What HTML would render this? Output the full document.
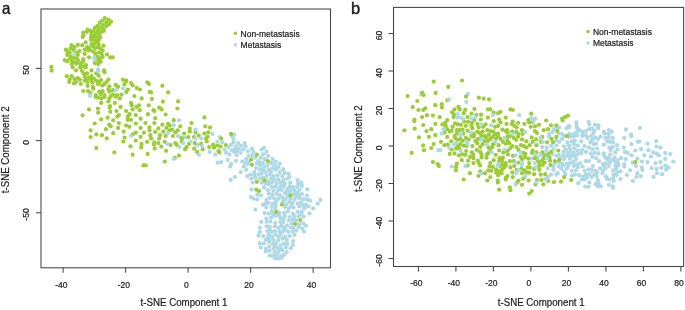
<!DOCTYPE html>
<html><head><meta charset="utf-8"><title>t-SNE</title>
<style>html,body{margin:0;padding:0;background:#fff;}body{width:685px;height:310px;position:relative;overflow:hidden;font-family:"Liberation Sans",sans-serif;}svg text{font-family:"Liberation Sans",sans-serif;}</style>
</head><body>
<svg width="685" height="310" viewBox="0 0 685 310" style="position:absolute;left:0;top:0;filter:blur(0.35px)"><g fill="none" stroke="#444" stroke-width="1.05"><rect x="41" y="9" width="289.5" height="258.8"/><rect x="393.5" y="7.4" width="290.1" height="259.1"/><line x1="63.1" y1="267.8" x2="63.1" y2="272.8"/><line x1="125.6" y1="267.8" x2="125.6" y2="272.8"/><line x1="188.1" y1="267.8" x2="188.1" y2="272.8"/><line x1="250.6" y1="267.8" x2="250.6" y2="272.8"/><line x1="313.1" y1="267.8" x2="313.1" y2="272.8"/><line x1="36" y1="68.4" x2="41" y2="68.4"/><line x1="36" y1="140.6" x2="41" y2="140.6"/><line x1="36" y1="212.8" x2="41" y2="212.8"/><line x1="418.4" y1="266.5" x2="418.4" y2="271.6"/><line x1="455.9" y1="266.5" x2="455.9" y2="271.6"/><line x1="493.4" y1="266.5" x2="493.4" y2="271.6"/><line x1="530.9" y1="266.5" x2="530.9" y2="271.6"/><line x1="568.4" y1="266.5" x2="568.4" y2="271.6"/><line x1="605.9" y1="266.5" x2="605.9" y2="271.6"/><line x1="643.4" y1="266.5" x2="643.4" y2="271.6"/><line x1="680.9" y1="266.5" x2="680.9" y2="271.6"/><line x1="388.5" y1="33.5" x2="393.5" y2="33.5"/><line x1="388.5" y1="71.0" x2="393.5" y2="71.0"/><line x1="388.5" y1="108.5" x2="393.5" y2="108.5"/><line x1="388.5" y1="146.0" x2="393.5" y2="146.0"/><line x1="388.5" y1="183.5" x2="393.5" y2="183.5"/><line x1="388.5" y1="221.0" x2="393.5" y2="221.0"/><line x1="388.5" y1="258.5" x2="393.5" y2="258.5"/></g><g class="t" fill="#1a1a1a" stroke="#1a1a1a" stroke-width="0.2"><text x="1.9" y="13.7" font-size="16.5" stroke-width="0.4" textLength="8.4" lengthAdjust="spacingAndGlyphs">a</text><text x="351.1" y="14.1" font-size="16.5" stroke-width="0.4">b</text><g font-size="8.5" text-anchor="middle"><text x="61.4" y="288">-40</text><text x="123.9" y="288">-20</text><text x="186.4" y="288">0</text><text x="248.9" y="288">20</text><text x="311.4" y="288">40</text><text transform="translate(29.2,70.1) rotate(-90)">50</text><text transform="translate(29.2,142.3) rotate(-90)">0</text><text transform="translate(29.2,214.5) rotate(-90)">-50</text><text x="416.4" y="286.4">-60</text><text x="453.9" y="286.4">-40</text><text x="491.4" y="286.4">-20</text><text x="528.9" y="286.4">0</text><text x="566.4" y="286.4">20</text><text x="603.9" y="286.4">40</text><text x="641.4" y="286.4">60</text><text x="678.9" y="286.4">80</text><text transform="translate(382.1,35.5) rotate(-90)">60</text><text transform="translate(382.1,73.0) rotate(-90)">40</text><text transform="translate(382.1,110.5) rotate(-90)">20</text><text transform="translate(382.1,148.0) rotate(-90)">0</text><text transform="translate(382.1,185.5) rotate(-90)">-20</text><text transform="translate(382.1,223.0) rotate(-90)">-40</text><text transform="translate(382.1,260.5) rotate(-90)">-60</text></g><g font-size="10" text-anchor="middle"><text x="184" y="306.4" textLength="86.8" lengthAdjust="spacingAndGlyphs">t-SNE Component 1</text><text x="541.2" y="306.4" textLength="86.8" lengthAdjust="spacingAndGlyphs">t-SNE Component 1</text><text transform="translate(9.1,149.8) rotate(-90)" textLength="86.8" lengthAdjust="spacingAndGlyphs">t-SNE Component 2</text><text transform="translate(361.6,148.7) rotate(-90)" textLength="86.8" lengthAdjust="spacingAndGlyphs">t-SNE Component 2</text></g><g font-size="8.5"><text x="240.6" y="36.5">Non-metastasis</text><text x="240.6" y="47.7">Metastasis</text><text x="592.9" y="34.9">Non-metastasis</text><text x="592.9" y="45.9">Metastasis</text></g></g><circle cx="235.3" cy="33.3" r="1.75" fill="#9acd32"/><circle cx="235.3" cy="44.8" r="1.75" fill="#add8e6"/><circle cx="588.1" cy="31.4" r="1.75" fill="#9acd32"/><circle cx="588.1" cy="42.9" r="1.75" fill="#add8e6"/><g><circle cx="135.8" cy="140.6" r="2.1" fill="#9acd32"/><circle cx="94.5" cy="35.8" r="2.1" fill="#9acd32"/><circle cx="220.5" cy="146.6" r="2.1" fill="#9acd32"/><circle cx="230.6" cy="179.8" r="2.1" fill="#add8e6"/><circle cx="219.7" cy="137.1" r="2.1" fill="#add8e6"/><circle cx="259.8" cy="243.4" r="2.1" fill="#add8e6"/><circle cx="210.0" cy="127.4" r="2.1" fill="#9acd32"/><circle cx="123.4" cy="141.5" r="2.1" fill="#9acd32"/><circle cx="70.6" cy="48.6" r="2.1" fill="#9acd32"/><circle cx="266.4" cy="218.5" r="2.1" fill="#add8e6"/><circle cx="233.4" cy="138.7" r="2.1" fill="#add8e6"/><circle cx="284.9" cy="193.3" r="2.1" fill="#add8e6"/><circle cx="88.1" cy="50.5" r="2.1" fill="#9acd32"/><circle cx="235.8" cy="160.8" r="2.1" fill="#add8e6"/><circle cx="278.2" cy="198.8" r="2.1" fill="#add8e6"/><circle cx="269.7" cy="174.5" r="2.1" fill="#add8e6"/><circle cx="90.6" cy="130.3" r="2.1" fill="#9acd32"/><circle cx="89.0" cy="109.4" r="2.1" fill="#9acd32"/><circle cx="106.5" cy="82.0" r="2.1" fill="#9acd32"/><circle cx="110.8" cy="126.3" r="2.1" fill="#9acd32"/><circle cx="283.1" cy="169.2" r="2.1" fill="#add8e6"/><circle cx="97.3" cy="37.0" r="2.1" fill="#9acd32"/><circle cx="77.9" cy="78.1" r="2.1" fill="#9acd32"/><circle cx="285.3" cy="229.4" r="2.1" fill="#add8e6"/><circle cx="198.7" cy="135.5" r="2.1" fill="#9acd32"/><circle cx="268.8" cy="193.5" r="2.1" fill="#add8e6"/><circle cx="51.6" cy="70.6" r="2.1" fill="#9acd32"/><circle cx="266.5" cy="176.1" r="2.1" fill="#add8e6"/><circle cx="257.1" cy="199.5" r="2.1" fill="#add8e6"/><circle cx="294.7" cy="190.6" r="2.1" fill="#add8e6"/><circle cx="186.6" cy="147.1" r="2.1" fill="#9acd32"/><circle cx="302.7" cy="205.0" r="2.1" fill="#add8e6"/><circle cx="309.6" cy="213.4" r="2.1" fill="#add8e6"/><circle cx="67.3" cy="61.2" r="2.1" fill="#9acd32"/><circle cx="251.0" cy="196.9" r="2.1" fill="#add8e6"/><circle cx="81.8" cy="70.8" r="2.1" fill="#9acd32"/><circle cx="120.5" cy="106.9" r="2.1" fill="#9acd32"/><circle cx="277.9" cy="190.3" r="2.1" fill="#add8e6"/><circle cx="234.2" cy="134.4" r="2.1" fill="#add8e6"/><circle cx="108.4" cy="79.6" r="2.1" fill="#9acd32"/><circle cx="287.4" cy="243.9" r="2.1" fill="#add8e6"/><circle cx="111.0" cy="96.0" r="2.1" fill="#9acd32"/><circle cx="243.9" cy="166.5" r="2.1" fill="#add8e6"/><circle cx="114.8" cy="102.9" r="2.1" fill="#9acd32"/><circle cx="268.1" cy="156.0" r="2.1" fill="#add8e6"/><circle cx="96.1" cy="32.9" r="2.1" fill="#9acd32"/><circle cx="272.6" cy="158.9" r="2.1" fill="#add8e6"/><circle cx="268.5" cy="203.1" r="2.1" fill="#add8e6"/><circle cx="91.0" cy="79.6" r="2.1" fill="#9acd32"/><circle cx="276.1" cy="243.2" r="2.1" fill="#add8e6"/><circle cx="261.3" cy="221.8" r="2.1" fill="#add8e6"/><circle cx="51.3" cy="66.9" r="2.1" fill="#9acd32"/><circle cx="175.3" cy="132.3" r="2.1" fill="#9acd32"/><circle cx="245.5" cy="146.3" r="2.1" fill="#add8e6"/><circle cx="277.4" cy="175.3" r="2.1" fill="#add8e6"/><circle cx="91.0" cy="39.9" r="2.1" fill="#9acd32"/><circle cx="70.6" cy="56.3" r="2.1" fill="#9acd32"/><circle cx="270.4" cy="221.5" r="2.1" fill="#add8e6"/><circle cx="65.8" cy="49.6" r="2.1" fill="#9acd32"/><circle cx="87.6" cy="85.8" r="2.1" fill="#9acd32"/><circle cx="293.9" cy="218.6" r="2.1" fill="#add8e6"/><circle cx="235.0" cy="176.9" r="2.1" fill="#add8e6"/><circle cx="87.6" cy="82.0" r="2.1" fill="#9acd32"/><circle cx="305.8" cy="204.9" r="2.1" fill="#add8e6"/><circle cx="275.1" cy="246.0" r="2.1" fill="#add8e6"/><circle cx="103.2" cy="24.8" r="2.1" fill="#9acd32"/><circle cx="284.8" cy="216.1" r="2.1" fill="#add8e6"/><circle cx="126.1" cy="111.0" r="2.1" fill="#9acd32"/><circle cx="251.1" cy="178.5" r="2.1" fill="#add8e6"/><circle cx="298.5" cy="216.5" r="2.1" fill="#add8e6"/><circle cx="126.3" cy="80.6" r="2.1" fill="#9acd32"/><circle cx="293.8" cy="194.1" r="2.1" fill="#add8e6"/><circle cx="158.4" cy="128.4" r="2.1" fill="#9acd32"/><circle cx="271.6" cy="206.8" r="2.1" fill="#add8e6"/><circle cx="189.0" cy="143.9" r="2.1" fill="#9acd32"/><circle cx="204.4" cy="133.5" r="2.1" fill="#9acd32"/><circle cx="275.2" cy="216.0" r="2.1" fill="#add8e6"/><circle cx="140.6" cy="118.7" r="2.1" fill="#9acd32"/><circle cx="121.5" cy="94.6" r="2.1" fill="#9acd32"/><circle cx="73.1" cy="57.8" r="2.1" fill="#9acd32"/><circle cx="320.4" cy="199.9" r="2.1" fill="#add8e6"/><circle cx="189.8" cy="131.6" r="2.1" fill="#9acd32"/><circle cx="109.7" cy="107.7" r="2.1" fill="#9acd32"/><circle cx="299.6" cy="198.1" r="2.1" fill="#add8e6"/><circle cx="297.8" cy="211.9" r="2.1" fill="#add8e6"/><circle cx="288.8" cy="208.5" r="2.1" fill="#add8e6"/><circle cx="154.4" cy="111.0" r="2.1" fill="#9acd32"/><circle cx="86.8" cy="31.8" r="2.1" fill="#9acd32"/><circle cx="99.2" cy="91.7" r="2.1" fill="#9acd32"/><circle cx="85.7" cy="42.3" r="2.1" fill="#9acd32"/><circle cx="102.6" cy="91.2" r="2.1" fill="#9acd32"/><circle cx="136.8" cy="87.9" r="2.1" fill="#9acd32"/><circle cx="231.8" cy="136.0" r="2.1" fill="#add8e6"/><circle cx="129.4" cy="114.2" r="2.1" fill="#9acd32"/><circle cx="166.1" cy="150.8" r="2.1" fill="#9acd32"/><circle cx="153.5" cy="110.2" r="2.1" fill="#9acd32"/><circle cx="92.4" cy="82.5" r="2.1" fill="#9acd32"/><circle cx="284.7" cy="183.4" r="2.1" fill="#add8e6"/><circle cx="135.8" cy="115.0" r="2.1" fill="#9acd32"/><circle cx="84.7" cy="80.5" r="2.1" fill="#9acd32"/><circle cx="261.6" cy="173.7" r="2.1" fill="#add8e6"/><circle cx="127.7" cy="116.6" r="2.1" fill="#9acd32"/><circle cx="217.7" cy="162.7" r="2.1" fill="#add8e6"/><circle cx="246.3" cy="169.7" r="2.1" fill="#add8e6"/><circle cx="195.5" cy="132.3" r="2.1" fill="#9acd32"/><circle cx="275.5" cy="208.2" r="2.1" fill="#add8e6"/><circle cx="84.7" cy="76.2" r="2.1" fill="#9acd32"/><circle cx="265.7" cy="248.9" r="2.1" fill="#add8e6"/><circle cx="279.8" cy="163.7" r="2.1" fill="#add8e6"/><circle cx="266.3" cy="207.5" r="2.1" fill="#add8e6"/><circle cx="271.9" cy="211.1" r="2.1" fill="#add8e6"/><circle cx="96.3" cy="134.4" r="2.1" fill="#9acd32"/><circle cx="268.7" cy="184.3" r="2.1" fill="#add8e6"/><circle cx="292.9" cy="213.5" r="2.1" fill="#add8e6"/><circle cx="301.1" cy="202.3" r="2.1" fill="#add8e6"/><circle cx="303.7" cy="216.7" r="2.1" fill="#add8e6"/><circle cx="185.0" cy="149.2" r="2.1" fill="#9acd32"/><circle cx="274.1" cy="198.3" r="2.1" fill="#add8e6"/><circle cx="179.0" cy="155.6" r="2.1" fill="#9acd32"/><circle cx="77.9" cy="54.9" r="2.1" fill="#9acd32"/><circle cx="256.0" cy="168.1" r="2.1" fill="#add8e6"/><circle cx="301.7" cy="211.7" r="2.1" fill="#add8e6"/><circle cx="119.8" cy="98.4" r="2.1" fill="#9acd32"/><circle cx="74.5" cy="79.1" r="2.1" fill="#9acd32"/><circle cx="118.9" cy="115.0" r="2.1" fill="#9acd32"/><circle cx="254.2" cy="174.9" r="2.1" fill="#add8e6"/><circle cx="99.7" cy="58.3" r="2.1" fill="#9acd32"/><circle cx="271.8" cy="163.2" r="2.1" fill="#add8e6"/><circle cx="94.4" cy="43.3" r="2.1" fill="#9acd32"/><circle cx="100.7" cy="61.7" r="2.1" fill="#9acd32"/><circle cx="97.3" cy="26.1" r="2.1" fill="#9acd32"/><circle cx="272.2" cy="232.0" r="2.1" fill="#add8e6"/><circle cx="288.8" cy="220.5" r="2.1" fill="#add8e6"/><circle cx="301.9" cy="194.0" r="2.1" fill="#add8e6"/><circle cx="263.2" cy="177.7" r="2.1" fill="#add8e6"/><circle cx="91.6" cy="34.2" r="2.1" fill="#9acd32"/><circle cx="276.8" cy="193.9" r="2.1" fill="#add8e6"/><circle cx="131.0" cy="119.8" r="2.1" fill="#9acd32"/><circle cx="86.1" cy="65.0" r="2.1" fill="#9acd32"/><circle cx="145.8" cy="165.3" r="2.1" fill="#9acd32"/><circle cx="286.1" cy="204.5" r="2.1" fill="#add8e6"/><circle cx="264.0" cy="167.3" r="2.1" fill="#add8e6"/><circle cx="98.7" cy="39.9" r="2.1" fill="#9acd32"/><circle cx="97.3" cy="56.8" r="2.1" fill="#9acd32"/><circle cx="231.0" cy="164.0" r="2.1" fill="#add8e6"/><circle cx="269.8" cy="229.3" r="2.1" fill="#add8e6"/><circle cx="313.1" cy="208.3" r="2.1" fill="#add8e6"/><circle cx="268.1" cy="181.0" r="2.1" fill="#add8e6"/><circle cx="150.3" cy="135.2" r="2.1" fill="#9acd32"/><circle cx="141.1" cy="147.4" r="2.1" fill="#9acd32"/><circle cx="280.3" cy="256.1" r="2.1" fill="#add8e6"/><circle cx="175.3" cy="143.1" r="2.1" fill="#9acd32"/><circle cx="274.2" cy="180.2" r="2.1" fill="#add8e6"/><circle cx="109.2" cy="124.7" r="2.1" fill="#9acd32"/><circle cx="139.0" cy="105.3" r="2.1" fill="#9acd32"/><circle cx="87.1" cy="73.3" r="2.1" fill="#9acd32"/><circle cx="115.8" cy="96.8" r="2.1" fill="#9acd32"/><circle cx="272.4" cy="194.7" r="2.1" fill="#add8e6"/><circle cx="303.3" cy="223.5" r="2.1" fill="#add8e6"/><circle cx="228.5" cy="147.1" r="2.1" fill="#add8e6"/><circle cx="298.1" cy="183.9" r="2.1" fill="#add8e6"/><circle cx="132.6" cy="154.7" r="2.1" fill="#9acd32"/><circle cx="76.0" cy="82.0" r="2.1" fill="#9acd32"/><circle cx="82.3" cy="45.2" r="2.1" fill="#9acd32"/><circle cx="289.5" cy="176.9" r="2.1" fill="#add8e6"/><circle cx="284.7" cy="172.9" r="2.1" fill="#add8e6"/><circle cx="172.1" cy="129.5" r="2.1" fill="#9acd32"/><circle cx="194.2" cy="148.7" r="2.1" fill="#9acd32"/><circle cx="247.9" cy="151.1" r="2.1" fill="#add8e6"/><circle cx="219.4" cy="152.4" r="2.1" fill="#9acd32"/><circle cx="93.9" cy="36.5" r="2.1" fill="#9acd32"/><circle cx="96.3" cy="73.3" r="2.1" fill="#9acd32"/><circle cx="94.8" cy="28.1" r="2.1" fill="#9acd32"/><circle cx="149.7" cy="91.9" r="2.1" fill="#9acd32"/><circle cx="77.9" cy="60.2" r="2.1" fill="#9acd32"/><circle cx="243.1" cy="149.5" r="2.1" fill="#add8e6"/><circle cx="272.1" cy="187.1" r="2.1" fill="#add8e6"/><circle cx="283.1" cy="231.3" r="2.1" fill="#add8e6"/><circle cx="273.4" cy="176.1" r="2.1" fill="#add8e6"/><circle cx="147.1" cy="141.8" r="2.1" fill="#9acd32"/><circle cx="258.6" cy="235.4" r="2.1" fill="#add8e6"/><circle cx="131.0" cy="102.9" r="2.1" fill="#9acd32"/><circle cx="135.8" cy="132.7" r="2.1" fill="#9acd32"/><circle cx="305.9" cy="225.7" r="2.1" fill="#add8e6"/><circle cx="231.0" cy="144.7" r="2.1" fill="#add8e6"/><circle cx="76.0" cy="58.3" r="2.1" fill="#9acd32"/><circle cx="269.6" cy="226.6" r="2.1" fill="#add8e6"/><circle cx="95.3" cy="48.1" r="2.1" fill="#9acd32"/><circle cx="178.1" cy="101.3" r="2.1" fill="#9acd32"/><circle cx="163.2" cy="131.6" r="2.1" fill="#9acd32"/><circle cx="101.3" cy="31.8" r="2.1" fill="#9acd32"/><circle cx="287.6" cy="195.9" r="2.1" fill="#add8e6"/><circle cx="104.5" cy="83.9" r="2.1" fill="#9acd32"/><circle cx="99.4" cy="34.2" r="2.1" fill="#9acd32"/><circle cx="174.8" cy="157.9" r="2.1" fill="#9acd32"/><circle cx="87.6" cy="29.7" r="2.1" fill="#9acd32"/><circle cx="264.0" cy="147.9" r="2.1" fill="#add8e6"/><circle cx="155.2" cy="131.9" r="2.1" fill="#9acd32"/><circle cx="100.5" cy="27.4" r="2.1" fill="#9acd32"/><circle cx="251.9" cy="155.4" r="2.1" fill="#add8e6"/><circle cx="110.0" cy="106.1" r="2.1" fill="#9acd32"/><circle cx="93.2" cy="31.0" r="2.1" fill="#9acd32"/><circle cx="269.5" cy="250.7" r="2.1" fill="#add8e6"/><circle cx="261.6" cy="182.6" r="2.1" fill="#add8e6"/><circle cx="227.7" cy="160.0" r="2.1" fill="#add8e6"/><circle cx="265.8" cy="251.4" r="2.1" fill="#add8e6"/><circle cx="170.5" cy="145.0" r="2.1" fill="#9acd32"/><circle cx="88.6" cy="78.1" r="2.1" fill="#9acd32"/><circle cx="234.9" cy="149.2" r="2.1" fill="#add8e6"/><circle cx="93.4" cy="51.5" r="2.1" fill="#9acd32"/><circle cx="275.7" cy="205.2" r="2.1" fill="#add8e6"/><circle cx="90.5" cy="31.0" r="2.1" fill="#9acd32"/><circle cx="83.2" cy="91.0" r="2.1" fill="#9acd32"/><circle cx="272.8" cy="244.2" r="2.1" fill="#add8e6"/><circle cx="247.1" cy="176.1" r="2.1" fill="#add8e6"/><circle cx="177.7" cy="130.3" r="2.1" fill="#9acd32"/><circle cx="293.5" cy="228.0" r="2.1" fill="#add8e6"/><circle cx="92.9" cy="86.8" r="2.1" fill="#9acd32"/><circle cx="266.3" cy="200.1" r="2.1" fill="#add8e6"/><circle cx="279.8" cy="172.1" r="2.1" fill="#add8e6"/><circle cx="278.5" cy="258.5" r="2.1" fill="#add8e6"/><circle cx="253.5" cy="151.9" r="2.1" fill="#add8e6"/><circle cx="135.8" cy="123.5" r="2.1" fill="#9acd32"/><circle cx="279.6" cy="187.7" r="2.1" fill="#add8e6"/><circle cx="164.8" cy="141.8" r="2.1" fill="#9acd32"/><circle cx="292.8" cy="219.7" r="2.1" fill="#add8e6"/><circle cx="294.6" cy="234.9" r="2.1" fill="#add8e6"/><circle cx="108.5" cy="19.7" r="2.1" fill="#9acd32"/><circle cx="269.6" cy="239.9" r="2.1" fill="#add8e6"/><circle cx="91.5" cy="70.4" r="2.1" fill="#9acd32"/><circle cx="283.4" cy="222.0" r="2.1" fill="#add8e6"/><circle cx="101.9" cy="135.2" r="2.1" fill="#9acd32"/><circle cx="100.7" cy="94.1" r="2.1" fill="#9acd32"/><circle cx="104.5" cy="96.8" r="2.1" fill="#9acd32"/><circle cx="145.5" cy="123.1" r="2.1" fill="#9acd32"/><circle cx="269.0" cy="242.1" r="2.1" fill="#add8e6"/><circle cx="272.6" cy="168.1" r="2.1" fill="#add8e6"/><circle cx="229.4" cy="154.4" r="2.1" fill="#add8e6"/><circle cx="131.8" cy="105.3" r="2.1" fill="#9acd32"/><circle cx="284.0" cy="243.6" r="2.1" fill="#add8e6"/><circle cx="245.3" cy="163.0" r="2.1" fill="#add8e6"/><circle cx="113.2" cy="120.3" r="2.1" fill="#9acd32"/><circle cx="102.1" cy="85.4" r="2.1" fill="#9acd32"/><circle cx="278.4" cy="240.0" r="2.1" fill="#add8e6"/><circle cx="280.4" cy="217.9" r="2.1" fill="#add8e6"/><circle cx="83.5" cy="35.0" r="2.1" fill="#9acd32"/><circle cx="259.9" cy="232.1" r="2.1" fill="#add8e6"/><circle cx="272.9" cy="203.5" r="2.1" fill="#add8e6"/><circle cx="141.5" cy="143.9" r="2.1" fill="#9acd32"/><circle cx="112.8" cy="57.3" r="2.1" fill="#9acd32"/><circle cx="83.2" cy="59.2" r="2.1" fill="#9acd32"/><circle cx="258.4" cy="174.5" r="2.1" fill="#add8e6"/><circle cx="67.3" cy="54.9" r="2.1" fill="#9acd32"/><circle cx="260.4" cy="162.7" r="2.1" fill="#add8e6"/><circle cx="101.1" cy="102.9" r="2.1" fill="#9acd32"/><circle cx="74.5" cy="47.1" r="2.1" fill="#9acd32"/><circle cx="154.4" cy="123.1" r="2.1" fill="#9acd32"/><circle cx="164.8" cy="161.6" r="2.1" fill="#9acd32"/><circle cx="285.3" cy="236.5" r="2.1" fill="#add8e6"/><circle cx="77.9" cy="44.9" r="2.1" fill="#9acd32"/><circle cx="238.2" cy="143.1" r="2.1" fill="#add8e6"/><circle cx="268.0" cy="190.2" r="2.1" fill="#add8e6"/><circle cx="261.6" cy="149.5" r="2.1" fill="#add8e6"/><circle cx="118.9" cy="123.1" r="2.1" fill="#9acd32"/><circle cx="293.1" cy="187.2" r="2.1" fill="#add8e6"/><circle cx="90.5" cy="93.1" r="2.1" fill="#9acd32"/><circle cx="269.9" cy="255.6" r="2.1" fill="#add8e6"/><circle cx="265.8" cy="239.8" r="2.1" fill="#add8e6"/><circle cx="265.6" cy="172.1" r="2.1" fill="#add8e6"/><circle cx="260.0" cy="169.7" r="2.1" fill="#add8e6"/><circle cx="102.1" cy="20.5" r="2.1" fill="#9acd32"/><circle cx="110.3" cy="111.8" r="2.1" fill="#9acd32"/><circle cx="297.6" cy="180.2" r="2.1" fill="#add8e6"/><circle cx="82.6" cy="115.3" r="2.1" fill="#9acd32"/><circle cx="255.3" cy="209.7" r="2.1" fill="#add8e6"/><circle cx="288.7" cy="173.7" r="2.1" fill="#add8e6"/><circle cx="280.1" cy="195.4" r="2.1" fill="#add8e6"/><circle cx="280.5" cy="245.4" r="2.1" fill="#add8e6"/><circle cx="214.0" cy="147.6" r="2.1" fill="#9acd32"/><circle cx="290.6" cy="190.3" r="2.1" fill="#add8e6"/><circle cx="263.2" cy="154.4" r="2.1" fill="#add8e6"/><circle cx="106.0" cy="129.2" r="2.1" fill="#9acd32"/><circle cx="162.4" cy="124.7" r="2.1" fill="#9acd32"/><circle cx="159.2" cy="107.7" r="2.1" fill="#9acd32"/><circle cx="287.1" cy="225.4" r="2.1" fill="#add8e6"/><circle cx="239.0" cy="148.7" r="2.1" fill="#add8e6"/><circle cx="101.3" cy="98.4" r="2.1" fill="#9acd32"/><circle cx="301.2" cy="214.4" r="2.1" fill="#add8e6"/><circle cx="97.8" cy="83.9" r="2.1" fill="#9acd32"/><circle cx="296.3" cy="196.6" r="2.1" fill="#add8e6"/><circle cx="169.7" cy="125.5" r="2.1" fill="#9acd32"/><circle cx="98.7" cy="75.7" r="2.1" fill="#9acd32"/><circle cx="149.5" cy="127.4" r="2.1" fill="#9acd32"/><circle cx="80.8" cy="63.1" r="2.1" fill="#9acd32"/><circle cx="154.4" cy="142.3" r="2.1" fill="#9acd32"/><circle cx="233.4" cy="142.3" r="2.1" fill="#add8e6"/><circle cx="114.4" cy="152.4" r="2.1" fill="#9acd32"/><circle cx="206.8" cy="141.5" r="2.1" fill="#9acd32"/><circle cx="294.5" cy="199.2" r="2.1" fill="#add8e6"/><circle cx="99.2" cy="82.0" r="2.1" fill="#9acd32"/><circle cx="303.6" cy="199.2" r="2.1" fill="#add8e6"/><circle cx="132.6" cy="109.4" r="2.1" fill="#9acd32"/><circle cx="116.5" cy="111.0" r="2.1" fill="#9acd32"/><circle cx="281.9" cy="257.8" r="2.1" fill="#add8e6"/><circle cx="281.7" cy="189.9" r="2.1" fill="#add8e6"/><circle cx="126.1" cy="125.5" r="2.1" fill="#9acd32"/><circle cx="289.7" cy="186.2" r="2.1" fill="#add8e6"/><circle cx="84.7" cy="49.6" r="2.1" fill="#9acd32"/><circle cx="260.7" cy="247.5" r="2.1" fill="#add8e6"/><circle cx="126.3" cy="91.9" r="2.1" fill="#9acd32"/><circle cx="88.1" cy="91.2" r="2.1" fill="#9acd32"/><circle cx="130.5" cy="146.3" r="2.1" fill="#9acd32"/><circle cx="188.2" cy="137.1" r="2.1" fill="#9acd32"/><circle cx="272.1" cy="236.7" r="2.1" fill="#add8e6"/><circle cx="98.2" cy="60.7" r="2.1" fill="#9acd32"/><circle cx="265.8" cy="203.9" r="2.1" fill="#add8e6"/><circle cx="275.8" cy="169.7" r="2.1" fill="#add8e6"/><circle cx="292.7" cy="202.9" r="2.1" fill="#add8e6"/><circle cx="155.2" cy="118.2" r="2.1" fill="#9acd32"/><circle cx="273.3" cy="190.9" r="2.1" fill="#add8e6"/><circle cx="275.4" cy="258.5" r="2.1" fill="#add8e6"/><circle cx="286.7" cy="252.0" r="2.1" fill="#add8e6"/><circle cx="76.9" cy="63.6" r="2.1" fill="#9acd32"/><circle cx="257.4" cy="194.7" r="2.1" fill="#add8e6"/><circle cx="284.0" cy="254.9" r="2.1" fill="#add8e6"/><circle cx="143.9" cy="132.7" r="2.1" fill="#9acd32"/><circle cx="278.9" cy="215.4" r="2.1" fill="#add8e6"/><circle cx="278.2" cy="167.3" r="2.1" fill="#add8e6"/><circle cx="296.3" cy="230.5" r="2.1" fill="#add8e6"/><circle cx="279.9" cy="231.5" r="2.1" fill="#add8e6"/><circle cx="106.5" cy="26.1" r="2.1" fill="#9acd32"/><circle cx="260.0" cy="178.5" r="2.1" fill="#add8e6"/><circle cx="280.3" cy="222.0" r="2.1" fill="#add8e6"/><circle cx="241.1" cy="145.5" r="2.1" fill="#add8e6"/><circle cx="95.8" cy="95.0" r="2.1" fill="#9acd32"/><circle cx="284.1" cy="212.9" r="2.1" fill="#add8e6"/><circle cx="165.6" cy="114.5" r="2.1" fill="#9acd32"/><circle cx="168.1" cy="92.4" r="2.1" fill="#9acd32"/><circle cx="98.2" cy="112.6" r="2.1" fill="#9acd32"/><circle cx="71.6" cy="45.2" r="2.1" fill="#9acd32"/><circle cx="269.3" cy="246.6" r="2.1" fill="#add8e6"/><circle cx="283.8" cy="186.2" r="2.1" fill="#add8e6"/><circle cx="72.1" cy="61.2" r="2.1" fill="#9acd32"/><circle cx="276.2" cy="255.0" r="2.1" fill="#add8e6"/><circle cx="268.0" cy="237.3" r="2.1" fill="#add8e6"/><circle cx="109.0" cy="24.2" r="2.1" fill="#9acd32"/><circle cx="69.7" cy="52.5" r="2.1" fill="#9acd32"/><circle cx="299.6" cy="189.7" r="2.1" fill="#add8e6"/><circle cx="262.9" cy="204.7" r="2.1" fill="#add8e6"/><circle cx="98.2" cy="64.1" r="2.1" fill="#9acd32"/><circle cx="176.9" cy="145.0" r="2.1" fill="#9acd32"/><circle cx="122.9" cy="79.6" r="2.1" fill="#9acd32"/><circle cx="84.7" cy="53.9" r="2.1" fill="#9acd32"/><circle cx="117.3" cy="116.6" r="2.1" fill="#9acd32"/><circle cx="266.5" cy="151.9" r="2.1" fill="#add8e6"/><circle cx="147.3" cy="82.3" r="2.1" fill="#9acd32"/><circle cx="276.1" cy="201.6" r="2.1" fill="#add8e6"/><circle cx="83.2" cy="32.6" r="2.1" fill="#9acd32"/><circle cx="91.5" cy="76.2" r="2.1" fill="#9acd32"/><circle cx="264.0" cy="187.4" r="2.1" fill="#add8e6"/><circle cx="197.1" cy="151.9" r="2.1" fill="#9acd32"/><circle cx="209.2" cy="147.1" r="2.1" fill="#9acd32"/><circle cx="125.8" cy="81.5" r="2.1" fill="#9acd32"/><circle cx="106.1" cy="22.1" r="2.1" fill="#9acd32"/><circle cx="275.0" cy="165.6" r="2.1" fill="#add8e6"/><circle cx="151.1" cy="92.4" r="2.1" fill="#9acd32"/><circle cx="110.3" cy="57.3" r="2.1" fill="#9acd32"/><circle cx="268.7" cy="213.4" r="2.1" fill="#add8e6"/><circle cx="180.2" cy="126.3" r="2.1" fill="#9acd32"/><circle cx="80.3" cy="67.5" r="2.1" fill="#9acd32"/><circle cx="73.6" cy="50.0" r="2.1" fill="#9acd32"/><circle cx="165.6" cy="136.0" r="2.1" fill="#9acd32"/><circle cx="293.6" cy="207.6" r="2.1" fill="#add8e6"/><circle cx="124.5" cy="137.6" r="2.1" fill="#9acd32"/><circle cx="103.7" cy="29.0" r="2.1" fill="#9acd32"/><circle cx="148.9" cy="83.9" r="2.1" fill="#9acd32"/><circle cx="255.2" cy="177.7" r="2.1" fill="#add8e6"/><circle cx="303.9" cy="231.5" r="2.1" fill="#add8e6"/><circle cx="86.1" cy="78.6" r="2.1" fill="#9acd32"/><circle cx="97.9" cy="108.5" r="2.1" fill="#9acd32"/><circle cx="304.3" cy="208.5" r="2.1" fill="#add8e6"/><circle cx="83.2" cy="66.5" r="2.1" fill="#9acd32"/><circle cx="107.6" cy="117.7" r="2.1" fill="#9acd32"/><circle cx="67.3" cy="51.5" r="2.1" fill="#9acd32"/><circle cx="280.7" cy="234.2" r="2.1" fill="#add8e6"/><circle cx="283.1" cy="201.4" r="2.1" fill="#add8e6"/><circle cx="269.0" cy="234.4" r="2.1" fill="#add8e6"/><circle cx="290.8" cy="206.0" r="2.1" fill="#add8e6"/><circle cx="263.0" cy="169.9" r="2.1" fill="#add8e6"/><circle cx="98.7" cy="52.5" r="2.1" fill="#9acd32"/><circle cx="98.7" cy="44.7" r="2.1" fill="#9acd32"/><circle cx="246.3" cy="159.2" r="2.1" fill="#add8e6"/><circle cx="294.2" cy="215.9" r="2.1" fill="#add8e6"/><circle cx="143.5" cy="165.3" r="2.1" fill="#9acd32"/><circle cx="104.5" cy="95.0" r="2.1" fill="#9acd32"/><circle cx="276.6" cy="183.4" r="2.1" fill="#add8e6"/><circle cx="71.6" cy="76.2" r="2.1" fill="#9acd32"/><circle cx="117.1" cy="95.0" r="2.1" fill="#9acd32"/><circle cx="96.3" cy="147.9" r="2.1" fill="#9acd32"/><circle cx="115.7" cy="84.9" r="2.1" fill="#9acd32"/><circle cx="267.5" cy="231.2" r="2.1" fill="#add8e6"/><circle cx="263.9" cy="243.6" r="2.1" fill="#add8e6"/><circle cx="66.8" cy="76.2" r="2.1" fill="#9acd32"/><circle cx="94.8" cy="63.1" r="2.1" fill="#9acd32"/><circle cx="240.6" cy="152.7" r="2.1" fill="#add8e6"/><circle cx="301.9" cy="185.8" r="2.1" fill="#add8e6"/><circle cx="256.8" cy="163.2" r="2.1" fill="#add8e6"/><circle cx="112.8" cy="90.2" r="2.1" fill="#9acd32"/><circle cx="273.0" cy="214.2" r="2.1" fill="#add8e6"/><circle cx="289.6" cy="192.9" r="2.1" fill="#add8e6"/><circle cx="278.2" cy="179.4" r="2.1" fill="#add8e6"/><circle cx="134.4" cy="96.0" r="2.1" fill="#9acd32"/><circle cx="158.4" cy="143.1" r="2.1" fill="#9acd32"/><circle cx="260.8" cy="157.6" r="2.1" fill="#add8e6"/><circle cx="230.2" cy="166.5" r="2.1" fill="#add8e6"/><circle cx="287.8" cy="211.5" r="2.1" fill="#add8e6"/><circle cx="94.7" cy="123.5" r="2.1" fill="#9acd32"/><circle cx="298.7" cy="227.0" r="2.1" fill="#add8e6"/><circle cx="162.3" cy="85.8" r="2.1" fill="#9acd32"/><circle cx="310.2" cy="200.6" r="2.1" fill="#add8e6"/><circle cx="217.3" cy="145.5" r="2.1" fill="#9acd32"/><circle cx="275.0" cy="231.0" r="2.1" fill="#add8e6"/><circle cx="317.7" cy="203.7" r="2.1" fill="#add8e6"/><circle cx="275.8" cy="161.6" r="2.1" fill="#add8e6"/><circle cx="213.2" cy="144.7" r="2.1" fill="#9acd32"/><circle cx="90.5" cy="50.5" r="2.1" fill="#9acd32"/><circle cx="193.9" cy="137.1" r="2.1" fill="#9acd32"/><circle cx="258.4" cy="160.8" r="2.1" fill="#add8e6"/><circle cx="253.5" cy="198.6" r="2.1" fill="#add8e6"/><circle cx="285.0" cy="206.8" r="2.1" fill="#add8e6"/><circle cx="96.3" cy="80.5" r="2.1" fill="#9acd32"/><circle cx="231.8" cy="150.3" r="2.1" fill="#add8e6"/><circle cx="274.8" cy="226.5" r="2.1" fill="#add8e6"/><circle cx="109.4" cy="86.3" r="2.1" fill="#9acd32"/><circle cx="118.1" cy="127.9" r="2.1" fill="#9acd32"/><circle cx="281.4" cy="225.6" r="2.1" fill="#add8e6"/><circle cx="132.7" cy="85.5" r="2.1" fill="#9acd32"/><circle cx="218.4" cy="151.1" r="2.1" fill="#9acd32"/><circle cx="255.2" cy="157.6" r="2.1" fill="#add8e6"/><circle cx="191.5" cy="123.1" r="2.1" fill="#9acd32"/><circle cx="69.2" cy="82.0" r="2.1" fill="#9acd32"/><circle cx="249.3" cy="161.7" r="2.1" fill="#add8e6"/><circle cx="285.7" cy="247.3" r="2.1" fill="#add8e6"/><circle cx="64.8" cy="60.2" r="2.1" fill="#9acd32"/><circle cx="252.7" cy="182.6" r="2.1" fill="#add8e6"/><circle cx="237.0" cy="151.0" r="2.1" fill="#add8e6"/><circle cx="281.1" cy="185.0" r="2.1" fill="#add8e6"/><circle cx="139.8" cy="110.2" r="2.1" fill="#9acd32"/><circle cx="273.5" cy="240.0" r="2.1" fill="#add8e6"/><circle cx="290.3" cy="182.6" r="2.1" fill="#add8e6"/><circle cx="90.6" cy="137.1" r="2.1" fill="#9acd32"/><circle cx="99.7" cy="22.9" r="2.1" fill="#9acd32"/><circle cx="250.3" cy="174.5" r="2.1" fill="#add8e6"/><circle cx="91.5" cy="44.2" r="2.1" fill="#9acd32"/><circle cx="149.5" cy="130.3" r="2.1" fill="#9acd32"/><circle cx="297.7" cy="203.5" r="2.1" fill="#add8e6"/><circle cx="100.7" cy="48.6" r="2.1" fill="#9acd32"/><circle cx="74.0" cy="83.4" r="2.1" fill="#9acd32"/><circle cx="244.7" cy="143.1" r="2.1" fill="#add8e6"/><circle cx="148.7" cy="105.3" r="2.1" fill="#9acd32"/><circle cx="307.3" cy="199.7" r="2.1" fill="#add8e6"/><circle cx="79.8" cy="79.6" r="2.1" fill="#9acd32"/><circle cx="275.5" cy="186.7" r="2.1" fill="#add8e6"/><circle cx="147.6" cy="153.9" r="2.1" fill="#9acd32"/><circle cx="286.7" cy="239.9" r="2.1" fill="#add8e6"/><circle cx="265.6" cy="183.4" r="2.1" fill="#add8e6"/><circle cx="107.0" cy="54.4" r="2.1" fill="#9acd32"/><circle cx="207.6" cy="136.8" r="2.1" fill="#9acd32"/><circle cx="140.0" cy="89.5" r="2.1" fill="#9acd32"/><circle cx="283.7" cy="227.2" r="2.1" fill="#add8e6"/><circle cx="283.6" cy="219.0" r="2.1" fill="#add8e6"/><circle cx="161.6" cy="109.4" r="2.1" fill="#9acd32"/><circle cx="80.8" cy="65.5" r="2.1" fill="#9acd32"/><circle cx="93.4" cy="46.6" r="2.1" fill="#9acd32"/><circle cx="235.8" cy="146.3" r="2.1" fill="#add8e6"/><circle cx="113.2" cy="94.6" r="2.1" fill="#9acd32"/><circle cx="267.3" cy="165.6" r="2.1" fill="#add8e6"/><circle cx="97.3" cy="42.8" r="2.1" fill="#9acd32"/><circle cx="103.6" cy="45.7" r="2.1" fill="#9acd32"/><circle cx="147.9" cy="114.2" r="2.1" fill="#9acd32"/><circle cx="159.2" cy="138.4" r="2.1" fill="#9acd32"/><circle cx="93.9" cy="39.4" r="2.1" fill="#9acd32"/><circle cx="266.5" cy="226.4" r="2.1" fill="#add8e6"/><circle cx="108.4" cy="101.3" r="2.1" fill="#9acd32"/><circle cx="153.9" cy="144.4" r="2.1" fill="#9acd32"/><circle cx="289.7" cy="217.0" r="2.1" fill="#add8e6"/><circle cx="166.5" cy="127.9" r="2.1" fill="#9acd32"/><circle cx="83.7" cy="73.3" r="2.1" fill="#9acd32"/><circle cx="297.4" cy="187.0" r="2.1" fill="#add8e6"/><circle cx="299.0" cy="224.3" r="2.1" fill="#add8e6"/><circle cx="282.3" cy="176.1" r="2.1" fill="#add8e6"/><circle cx="292.9" cy="245.0" r="2.1" fill="#add8e6"/><circle cx="113.2" cy="133.2" r="2.1" fill="#9acd32"/><circle cx="102.6" cy="56.8" r="2.1" fill="#9acd32"/><circle cx="271.0" cy="178.6" r="2.1" fill="#add8e6"/><circle cx="72.6" cy="67.2" r="2.1" fill="#9acd32"/><circle cx="289.7" cy="236.1" r="2.1" fill="#add8e6"/><circle cx="162.9" cy="101.6" r="2.1" fill="#9acd32"/><circle cx="264.5" cy="212.9" r="2.1" fill="#add8e6"/><circle cx="93.4" cy="88.7" r="2.1" fill="#9acd32"/><circle cx="292.6" cy="231.7" r="2.1" fill="#add8e6"/><circle cx="98.1" cy="97.6" r="2.1" fill="#9acd32"/><circle cx="263.4" cy="236.0" r="2.1" fill="#add8e6"/><circle cx="96.3" cy="40.4" r="2.1" fill="#9acd32"/><circle cx="226.1" cy="152.7" r="2.1" fill="#add8e6"/><circle cx="279.3" cy="212.7" r="2.1" fill="#add8e6"/><circle cx="69.7" cy="79.6" r="2.1" fill="#9acd32"/><circle cx="278.7" cy="227.9" r="2.1" fill="#add8e6"/><circle cx="236.6" cy="155.2" r="2.1" fill="#add8e6"/><circle cx="302.3" cy="228.7" r="2.1" fill="#add8e6"/><circle cx="131.1" cy="83.1" r="2.1" fill="#9acd32"/><circle cx="285.6" cy="199.4" r="2.1" fill="#add8e6"/><circle cx="290.8" cy="227.6" r="2.1" fill="#add8e6"/><circle cx="240.6" cy="172.1" r="2.1" fill="#add8e6"/><circle cx="288.3" cy="231.8" r="2.1" fill="#add8e6"/><circle cx="104.8" cy="18.1" r="2.1" fill="#9acd32"/><circle cx="124.4" cy="84.4" r="2.1" fill="#9acd32"/><circle cx="168.1" cy="123.9" r="2.1" fill="#9acd32"/><circle cx="101.1" cy="119.4" r="2.1" fill="#9acd32"/><circle cx="261.1" cy="195.5" r="2.1" fill="#add8e6"/><circle cx="251.9" cy="148.7" r="2.1" fill="#add8e6"/><circle cx="271.0" cy="172.1" r="2.1" fill="#add8e6"/><circle cx="296.3" cy="220.4" r="2.1" fill="#add8e6"/><circle cx="287.4" cy="188.8" r="2.1" fill="#add8e6"/><circle cx="280.6" cy="182.6" r="2.1" fill="#add8e6"/><circle cx="132.6" cy="134.4" r="2.1" fill="#9acd32"/><circle cx="290.3" cy="198.7" r="2.1" fill="#add8e6"/><circle cx="277.9" cy="248.2" r="2.1" fill="#add8e6"/><circle cx="272.8" cy="256.0" r="2.1" fill="#add8e6"/><circle cx="286.7" cy="191.4" r="2.1" fill="#add8e6"/><circle cx="177.4" cy="108.5" r="2.1" fill="#9acd32"/><circle cx="247.9" cy="164.0" r="2.1" fill="#add8e6"/><circle cx="85.7" cy="67.5" r="2.1" fill="#9acd32"/><circle cx="271.8" cy="182.6" r="2.1" fill="#add8e6"/><circle cx="123.7" cy="131.6" r="2.1" fill="#9acd32"/><circle cx="161.3" cy="146.6" r="2.1" fill="#9acd32"/><circle cx="283.1" cy="180.2" r="2.1" fill="#add8e6"/><circle cx="202.7" cy="149.2" r="2.1" fill="#9acd32"/><circle cx="287.1" cy="178.5" r="2.1" fill="#add8e6"/><circle cx="111.0" cy="21.6" r="2.1" fill="#9acd32"/><circle cx="291.9" cy="223.7" r="2.1" fill="#add8e6"/><circle cx="79.4" cy="51.0" r="2.1" fill="#9acd32"/><circle cx="127.7" cy="119.8" r="2.1" fill="#9acd32"/><circle cx="101.1" cy="80.0" r="2.1" fill="#9acd32"/><circle cx="268.9" cy="169.7" r="2.1" fill="#add8e6"/><circle cx="91.0" cy="37.0" r="2.1" fill="#9acd32"/><circle cx="306.9" cy="195.5" r="2.1" fill="#add8e6"/><circle cx="189.8" cy="128.7" r="2.1" fill="#9acd32"/><circle cx="74.5" cy="62.6" r="2.1" fill="#9acd32"/><circle cx="301.3" cy="182.6" r="2.1" fill="#add8e6"/><circle cx="71.6" cy="64.1" r="2.1" fill="#9acd32"/><circle cx="281.1" cy="249.4" r="2.1" fill="#add8e6"/><circle cx="221.3" cy="162.1" r="2.1" fill="#add8e6"/><circle cx="108.4" cy="89.2" r="2.1" fill="#9acd32"/><circle cx="102.6" cy="50.5" r="2.1" fill="#9acd32"/><circle cx="106.8" cy="138.4" r="2.1" fill="#9acd32"/><circle cx="289.1" cy="202.0" r="2.1" fill="#add8e6"/><circle cx="127.9" cy="89.5" r="2.1" fill="#9acd32"/><circle cx="95.6" cy="96.8" r="2.1" fill="#9acd32"/><circle cx="293.1" cy="241.1" r="2.1" fill="#add8e6"/><circle cx="160.0" cy="135.2" r="2.1" fill="#9acd32"/><circle cx="93.9" cy="78.6" r="2.1" fill="#9acd32"/><circle cx="205.2" cy="126.3" r="2.1" fill="#9acd32"/><circle cx="282.4" cy="197.6" r="2.1" fill="#add8e6"/><circle cx="109.4" cy="91.7" r="2.1" fill="#9acd32"/><circle cx="140.6" cy="127.9" r="2.1" fill="#9acd32"/><circle cx="282.7" cy="238.7" r="2.1" fill="#add8e6"/><circle cx="276.0" cy="234.9" r="2.1" fill="#add8e6"/><circle cx="101.6" cy="53.9" r="2.1" fill="#9acd32"/><circle cx="297.2" cy="192.7" r="2.1" fill="#add8e6"/><circle cx="141.6" cy="98.4" r="2.1" fill="#9acd32"/><circle cx="278.3" cy="252.1" r="2.1" fill="#add8e6"/><circle cx="95.3" cy="53.9" r="2.1" fill="#9acd32"/><circle cx="103.7" cy="31.0" r="2.1" fill="#9acd32"/><circle cx="169.7" cy="130.3" r="2.1" fill="#9acd32"/><circle cx="298.8" cy="195.4" r="2.1" fill="#add8e6"/><circle cx="151.9" cy="98.9" r="2.1" fill="#9acd32"/><circle cx="89.5" cy="48.1" r="2.1" fill="#9acd32"/><circle cx="260.0" cy="165.6" r="2.1" fill="#add8e6"/><circle cx="307.3" cy="189.4" r="2.1" fill="#add8e6"/><circle cx="129.4" cy="126.8" r="2.1" fill="#9acd32"/><circle cx="87.1" cy="47.1" r="2.1" fill="#9acd32"/><circle cx="208.4" cy="132.3" r="2.1" fill="#9acd32"/><circle cx="136.6" cy="106.9" r="2.1" fill="#9acd32"/><circle cx="278.9" cy="236.8" r="2.1" fill="#add8e6"/><circle cx="154.7" cy="148.4" r="2.1" fill="#9acd32"/><circle cx="76.0" cy="70.4" r="2.1" fill="#9acd32"/><circle cx="76.9" cy="52.5" r="2.1" fill="#9acd32"/><circle cx="104.5" cy="72.3" r="2.1" fill="#9acd32"/><circle cx="254.4" cy="172.1" r="2.1" fill="#add8e6"/><circle cx="234.2" cy="151.9" r="2.1" fill="#add8e6"/><circle cx="151.1" cy="138.4" r="2.1" fill="#9acd32"/><circle cx="184.2" cy="133.5" r="2.1" fill="#9acd32"/><circle cx="290.8" cy="248.2" r="2.1" fill="#add8e6"/><circle cx="263.2" cy="163.2" r="2.1" fill="#add8e6"/><circle cx="273.6" cy="248.5" r="2.1" fill="#add8e6"/><circle cx="269.7" cy="162.4" r="2.1" fill="#add8e6"/><circle cx="206.0" cy="138.4" r="2.1" fill="#9acd32"/><circle cx="274.6" cy="252.0" r="2.1" fill="#add8e6"/><circle cx="140.6" cy="136.8" r="2.1" fill="#9acd32"/><circle cx="100.2" cy="37.5" r="2.1" fill="#9acd32"/><circle cx="275.3" cy="223.0" r="2.1" fill="#add8e6"/><circle cx="299.3" cy="206.3" r="2.1" fill="#add8e6"/><circle cx="259.8" cy="227.7" r="2.1" fill="#add8e6"/><circle cx="308.2" cy="206.6" r="2.1" fill="#add8e6"/><circle cx="242.3" cy="161.6" r="2.1" fill="#add8e6"/><circle cx="204.4" cy="117.4" r="2.1" fill="#9acd32"/><circle cx="271.1" cy="217.6" r="2.1" fill="#add8e6"/><circle cx="82.7" cy="37.0" r="2.1" fill="#9acd32"/><circle cx="269.9" cy="197.9" r="2.1" fill="#add8e6"/><circle cx="80.8" cy="83.9" r="2.1" fill="#9acd32"/><circle cx="282.5" cy="250.4" r="2.1" fill="#add8e6"/><circle cx="98.2" cy="47.1" r="2.1" fill="#9acd32"/><circle cx="264.8" cy="159.2" r="2.1" fill="#add8e6"/><circle cx="266.5" cy="221.8" r="2.1" fill="#add8e6"/><circle cx="98.1" cy="30.2" r="2.1" fill="#9acd32"/><circle cx="248.7" cy="156.0" r="2.1" fill="#add8e6"/><circle cx="83.2" cy="61.7" r="2.1" fill="#9acd32"/><circle cx="70.2" cy="58.7" r="2.1" fill="#9acd32"/><circle cx="109.4" cy="98.4" r="2.1" fill="#9acd32"/><circle cx="225.8" cy="145.0" r="2.1" fill="#9acd32"/><circle cx="295.0" cy="224.0" r="2.1" fill="#9acd32"/><circle cx="118.1" cy="86.8" r="2.1" fill="#9acd32"/><circle cx="256.3" cy="189.7" r="2.1" fill="#9acd32"/><circle cx="116.1" cy="90.0" r="2.1" fill="#add8e6"/><circle cx="276.1" cy="211.9" r="2.1" fill="#9acd32"/><circle cx="173.7" cy="125.2" r="2.1" fill="#add8e6"/><circle cx="264.5" cy="180.2" r="2.1" fill="#9acd32"/><circle cx="209.7" cy="151.9" r="2.1" fill="#add8e6"/><circle cx="98.2" cy="71.3" r="2.1" fill="#add8e6"/><circle cx="221.3" cy="138.7" r="2.1" fill="#9acd32"/><circle cx="90.0" cy="96.0" r="2.1" fill="#add8e6"/><circle cx="199.0" cy="154.7" r="2.1" fill="#add8e6"/><circle cx="172.9" cy="136.0" r="2.1" fill="#9acd32"/><circle cx="251.9" cy="164.8" r="2.1" fill="#9acd32"/><circle cx="179.0" cy="120.3" r="2.1" fill="#add8e6"/><circle cx="300.3" cy="220.0" r="2.1" fill="#9acd32"/><circle cx="259.0" cy="191.0" r="2.1" fill="#9acd32"/><circle cx="231.0" cy="133.9" r="2.1" fill="#9acd32"/><circle cx="90.3" cy="95.0" r="2.1" fill="#add8e6"/><circle cx="281.8" cy="204.5" r="2.1" fill="#9acd32"/><circle cx="184.2" cy="137.6" r="2.1" fill="#add8e6"/><circle cx="197.4" cy="145.0" r="2.1" fill="#add8e6"/><circle cx="181.8" cy="141.5" r="2.1" fill="#9acd32"/><circle cx="224.5" cy="149.5" r="2.1" fill="#add8e6"/><circle cx="256.8" cy="154.7" r="2.1" fill="#9acd32"/><circle cx="194.7" cy="143.1" r="2.1" fill="#9acd32"/><circle cx="267.7" cy="161.1" r="2.1" fill="#9acd32"/><circle cx="179.4" cy="147.1" r="2.1" fill="#add8e6"/><circle cx="251.1" cy="159.5" r="2.1" fill="#9acd32"/><circle cx="195.5" cy="138.7" r="2.1" fill="#add8e6"/><circle cx="122.9" cy="88.5" r="2.1" fill="#add8e6"/><circle cx="180.2" cy="137.1" r="2.1" fill="#add8e6"/><circle cx="215.2" cy="154.7" r="2.1" fill="#add8e6"/><circle cx="195.5" cy="129.5" r="2.1" fill="#add8e6"/><circle cx="212.4" cy="133.9" r="2.1" fill="#add8e6"/><circle cx="222.1" cy="142.3" r="2.1" fill="#add8e6"/><circle cx="201.1" cy="143.9" r="2.1" fill="#9acd32"/><circle cx="89.0" cy="57.3" r="2.1" fill="#9acd32"/><circle cx="173.7" cy="158.9" r="2.1" fill="#add8e6"/><circle cx="131.0" cy="136.0" r="2.1" fill="#add8e6"/><circle cx="167.7" cy="133.2" r="2.1" fill="#add8e6"/><circle cx="98.2" cy="69.4" r="2.1" fill="#add8e6"/><circle cx="183.4" cy="143.1" r="2.1" fill="#add8e6"/><circle cx="104.0" cy="70.4" r="2.1" fill="#9acd32"/><circle cx="201.1" cy="138.4" r="2.1" fill="#add8e6"/><circle cx="290.6" cy="195.6" r="2.1" fill="#9acd32"/><circle cx="94.4" cy="59.5" r="2.1" fill="#add8e6"/><circle cx="217.3" cy="141.8" r="2.1" fill="#add8e6"/><circle cx="190.6" cy="141.5" r="2.1" fill="#add8e6"/><circle cx="177.7" cy="136.0" r="2.1" fill="#add8e6"/><circle cx="256.8" cy="181.8" r="2.1" fill="#9acd32"/><circle cx="94.2" cy="57.1" r="2.1" fill="#add8e6"/><circle cx="251.5" cy="189.5" r="2.1" fill="#add8e6"/><circle cx="181.8" cy="138.4" r="2.1" fill="#9acd32"/><circle cx="74.3" cy="53.9" r="2.1" fill="#add8e6"/><circle cx="202.3" cy="146.3" r="2.1" fill="#add8e6"/><circle cx="167.3" cy="143.9" r="2.1" fill="#add8e6"/><circle cx="173.7" cy="120.2" r="2.1" fill="#9acd32"/></g><g><circle cx="421.4" cy="94.6" r="2.1" fill="#add8e6"/><circle cx="451.6" cy="149.5" r="2.1" fill="#9acd32"/><circle cx="568.9" cy="145.6" r="2.1" fill="#add8e6"/><circle cx="603.9" cy="153.4" r="2.1" fill="#add8e6"/><circle cx="543.5" cy="158.5" r="2.1" fill="#9acd32"/><circle cx="531.7" cy="137.4" r="2.1" fill="#9acd32"/><circle cx="458.4" cy="106.9" r="2.1" fill="#9acd32"/><circle cx="586.0" cy="174.4" r="2.1" fill="#add8e6"/><circle cx="502.6" cy="164.3" r="2.1" fill="#9acd32"/><circle cx="462.3" cy="154.4" r="2.1" fill="#9acd32"/><circle cx="586.0" cy="151.9" r="2.1" fill="#add8e6"/><circle cx="505.8" cy="117.6" r="2.1" fill="#9acd32"/><circle cx="592.8" cy="166.0" r="2.1" fill="#add8e6"/><circle cx="507.9" cy="150.5" r="2.1" fill="#9acd32"/><circle cx="510.4" cy="167.4" r="2.1" fill="#9acd32"/><circle cx="509.9" cy="187.3" r="2.1" fill="#9acd32"/><circle cx="455.0" cy="137.9" r="2.1" fill="#9acd32"/><circle cx="607.3" cy="159.7" r="2.1" fill="#add8e6"/><circle cx="488.4" cy="147.6" r="2.1" fill="#9acd32"/><circle cx="456.9" cy="163.6" r="2.1" fill="#9acd32"/><circle cx="468.6" cy="139.4" r="2.1" fill="#9acd32"/><circle cx="473.4" cy="163.1" r="2.1" fill="#9acd32"/><circle cx="465.2" cy="109.8" r="2.1" fill="#9acd32"/><circle cx="585.9" cy="135.3" r="2.1" fill="#add8e6"/><circle cx="463.7" cy="179.5" r="2.1" fill="#9acd32"/><circle cx="455.0" cy="123.4" r="2.1" fill="#9acd32"/><circle cx="632.8" cy="181.0" r="2.1" fill="#add8e6"/><circle cx="550.0" cy="160.7" r="2.1" fill="#9acd32"/><circle cx="445.8" cy="125.8" r="2.1" fill="#9acd32"/><circle cx="534.1" cy="168.9" r="2.1" fill="#9acd32"/><circle cx="584.6" cy="179.5" r="2.1" fill="#add8e6"/><circle cx="620.4" cy="179.0" r="2.1" fill="#add8e6"/><circle cx="537.0" cy="133.1" r="2.1" fill="#9acd32"/><circle cx="603.9" cy="131.9" r="2.1" fill="#add8e6"/><circle cx="473.9" cy="136.5" r="2.1" fill="#9acd32"/><circle cx="463.2" cy="133.6" r="2.1" fill="#9acd32"/><circle cx="418.9" cy="137.3" r="2.1" fill="#9acd32"/><circle cx="593.8" cy="144.2" r="2.1" fill="#add8e6"/><circle cx="510.4" cy="190.2" r="2.1" fill="#9acd32"/><circle cx="589.4" cy="124.4" r="2.1" fill="#add8e6"/><circle cx="507.5" cy="176.1" r="2.1" fill="#9acd32"/><circle cx="457.9" cy="146.1" r="2.1" fill="#9acd32"/><circle cx="656.5" cy="146.5" r="2.1" fill="#add8e6"/><circle cx="617.0" cy="145.2" r="2.1" fill="#add8e6"/><circle cx="500.0" cy="166.0" r="2.1" fill="#9acd32"/><circle cx="518.6" cy="134.0" r="2.1" fill="#9acd32"/><circle cx="572.9" cy="156.0" r="2.1" fill="#add8e6"/><circle cx="539.4" cy="169.8" r="2.1" fill="#9acd32"/><circle cx="487.9" cy="140.8" r="2.1" fill="#9acd32"/><circle cx="449.7" cy="153.9" r="2.1" fill="#9acd32"/><circle cx="502.0" cy="160.7" r="2.1" fill="#9acd32"/><circle cx="454.5" cy="153.4" r="2.1" fill="#9acd32"/><circle cx="553.4" cy="169.8" r="2.1" fill="#add8e6"/><circle cx="528.3" cy="120.0" r="2.1" fill="#9acd32"/><circle cx="600.6" cy="186.3" r="2.1" fill="#add8e6"/><circle cx="559.2" cy="127.7" r="2.1" fill="#add8e6"/><circle cx="579.3" cy="175.2" r="2.1" fill="#add8e6"/><circle cx="490.3" cy="131.1" r="2.1" fill="#9acd32"/><circle cx="598.1" cy="186.3" r="2.1" fill="#add8e6"/><circle cx="595.7" cy="184.2" r="2.1" fill="#add8e6"/><circle cx="613.1" cy="187.7" r="2.1" fill="#add8e6"/><circle cx="417.3" cy="101.0" r="2.1" fill="#9acd32"/><circle cx="478.7" cy="163.1" r="2.1" fill="#9acd32"/><circle cx="575.9" cy="159.2" r="2.1" fill="#add8e6"/><circle cx="426.9" cy="115.2" r="2.1" fill="#9acd32"/><circle cx="582.6" cy="166.5" r="2.1" fill="#add8e6"/><circle cx="433.7" cy="81.6" r="2.1" fill="#9acd32"/><circle cx="571.8" cy="170.8" r="2.1" fill="#add8e6"/><circle cx="584.6" cy="170.8" r="2.1" fill="#add8e6"/><circle cx="531.7" cy="191.1" r="2.1" fill="#9acd32"/><circle cx="490.3" cy="138.9" r="2.1" fill="#9acd32"/><circle cx="481.6" cy="154.4" r="2.1" fill="#9acd32"/><circle cx="516.6" cy="169.8" r="2.1" fill="#9acd32"/><circle cx="589.4" cy="182.4" r="2.1" fill="#add8e6"/><circle cx="662.1" cy="174.2" r="2.1" fill="#add8e6"/><circle cx="528.7" cy="180.5" r="2.1" fill="#9acd32"/><circle cx="624.8" cy="151.9" r="2.1" fill="#add8e6"/><circle cx="573.9" cy="152.9" r="2.1" fill="#add8e6"/><circle cx="596.2" cy="143.7" r="2.1" fill="#add8e6"/><circle cx="504.4" cy="167.4" r="2.1" fill="#9acd32"/><circle cx="457.4" cy="139.8" r="2.1" fill="#9acd32"/><circle cx="589.4" cy="129.2" r="2.1" fill="#add8e6"/><circle cx="497.8" cy="180.5" r="2.1" fill="#9acd32"/><circle cx="445.3" cy="122.9" r="2.1" fill="#9acd32"/><circle cx="595.0" cy="124.8" r="2.1" fill="#add8e6"/><circle cx="463.7" cy="113.2" r="2.1" fill="#9acd32"/><circle cx="624.3" cy="164.0" r="2.1" fill="#add8e6"/><circle cx="423.2" cy="110.0" r="2.1" fill="#9acd32"/><circle cx="500.5" cy="122.4" r="2.1" fill="#9acd32"/><circle cx="608.8" cy="166.0" r="2.1" fill="#add8e6"/><circle cx="582.2" cy="131.6" r="2.1" fill="#add8e6"/><circle cx="595.2" cy="137.4" r="2.1" fill="#add8e6"/><circle cx="584.6" cy="146.1" r="2.1" fill="#add8e6"/><circle cx="524.4" cy="123.9" r="2.1" fill="#9acd32"/><circle cx="653.2" cy="152.4" r="2.1" fill="#add8e6"/><circle cx="448.2" cy="86.9" r="2.1" fill="#9acd32"/><circle cx="437.7" cy="164.2" r="2.1" fill="#9acd32"/><circle cx="465.7" cy="125.8" r="2.1" fill="#9acd32"/><circle cx="502.0" cy="169.4" r="2.1" fill="#9acd32"/><circle cx="568.9" cy="127.3" r="2.1" fill="#add8e6"/><circle cx="473.9" cy="134.0" r="2.1" fill="#9acd32"/><circle cx="512.3" cy="172.3" r="2.1" fill="#9acd32"/><circle cx="498.6" cy="145.2" r="2.1" fill="#9acd32"/><circle cx="414.7" cy="128.7" r="2.1" fill="#9acd32"/><circle cx="441.8" cy="104.2" r="2.1" fill="#9acd32"/><circle cx="624.3" cy="166.5" r="2.1" fill="#add8e6"/><circle cx="612.7" cy="137.9" r="2.1" fill="#add8e6"/><circle cx="598.6" cy="125.3" r="2.1" fill="#add8e6"/><circle cx="480.7" cy="119.5" r="2.1" fill="#9acd32"/><circle cx="580.2" cy="163.1" r="2.1" fill="#add8e6"/><circle cx="614.6" cy="157.7" r="2.1" fill="#add8e6"/><circle cx="576.9" cy="132.0" r="2.1" fill="#add8e6"/><circle cx="442.4" cy="124.4" r="2.1" fill="#9acd32"/><circle cx="486.0" cy="137.4" r="2.1" fill="#9acd32"/><circle cx="523.9" cy="146.1" r="2.1" fill="#9acd32"/><circle cx="440.5" cy="150.0" r="2.1" fill="#add8e6"/><circle cx="573.9" cy="166.0" r="2.1" fill="#add8e6"/><circle cx="597.2" cy="148.6" r="2.1" fill="#add8e6"/><circle cx="456.0" cy="148.6" r="2.1" fill="#9acd32"/><circle cx="426.5" cy="131.1" r="2.1" fill="#9acd32"/><circle cx="564.1" cy="159.2" r="2.1" fill="#add8e6"/><circle cx="553.4" cy="166.9" r="2.1" fill="#add8e6"/><circle cx="495.1" cy="134.2" r="2.1" fill="#9acd32"/><circle cx="518.6" cy="150.0" r="2.1" fill="#9acd32"/><circle cx="564.1" cy="146.6" r="2.1" fill="#add8e6"/><circle cx="561.0" cy="181.7" r="2.1" fill="#9acd32"/><circle cx="648.4" cy="150.2" r="2.1" fill="#add8e6"/><circle cx="608.8" cy="184.8" r="2.1" fill="#add8e6"/><circle cx="435.6" cy="92.9" r="2.1" fill="#9acd32"/><circle cx="456.0" cy="170.3" r="2.1" fill="#9acd32"/><circle cx="627.7" cy="152.9" r="2.1" fill="#add8e6"/><circle cx="567.5" cy="142.7" r="2.1" fill="#add8e6"/><circle cx="573.9" cy="136.5" r="2.1" fill="#add8e6"/><circle cx="575.9" cy="170.3" r="2.1" fill="#add8e6"/><circle cx="438.9" cy="166.1" r="2.1" fill="#9acd32"/><circle cx="529.7" cy="167.4" r="2.1" fill="#9acd32"/><circle cx="630.1" cy="170.3" r="2.1" fill="#add8e6"/><circle cx="498.1" cy="133.6" r="2.1" fill="#9acd32"/><circle cx="491.3" cy="170.8" r="2.1" fill="#9acd32"/><circle cx="507.5" cy="136.9" r="2.1" fill="#9acd32"/><circle cx="631.5" cy="155.3" r="2.1" fill="#add8e6"/><circle cx="589.4" cy="174.2" r="2.1" fill="#add8e6"/><circle cx="666.1" cy="169.7" r="2.1" fill="#add8e6"/><circle cx="523.4" cy="178.6" r="2.1" fill="#9acd32"/><circle cx="475.3" cy="140.8" r="2.1" fill="#9acd32"/><circle cx="451.1" cy="141.3" r="2.1" fill="#9acd32"/><circle cx="549.6" cy="157.3" r="2.1" fill="#9acd32"/><circle cx="562.1" cy="118.6" r="2.1" fill="#9acd32"/><circle cx="441.0" cy="141.8" r="2.1" fill="#9acd32"/><circle cx="423.2" cy="125.0" r="2.1" fill="#9acd32"/><circle cx="577.8" cy="150.5" r="2.1" fill="#add8e6"/><circle cx="464.2" cy="121.5" r="2.1" fill="#9acd32"/><circle cx="573.5" cy="162.1" r="2.1" fill="#add8e6"/><circle cx="489.4" cy="166.5" r="2.1" fill="#9acd32"/><circle cx="566.5" cy="128.2" r="2.1" fill="#add8e6"/><circle cx="599.1" cy="161.1" r="2.1" fill="#add8e6"/><circle cx="594.2" cy="174.4" r="2.1" fill="#add8e6"/><circle cx="478.5" cy="175.8" r="2.1" fill="#9acd32"/><circle cx="551.0" cy="174.7" r="2.1" fill="#add8e6"/><circle cx="543.8" cy="130.2" r="2.1" fill="#9acd32"/><circle cx="510.4" cy="109.4" r="2.1" fill="#9acd32"/><circle cx="577.8" cy="145.6" r="2.1" fill="#add8e6"/><circle cx="582.2" cy="136.0" r="2.1" fill="#add8e6"/><circle cx="454.0" cy="114.7" r="2.1" fill="#9acd32"/><circle cx="554.4" cy="164.0" r="2.1" fill="#add8e6"/><circle cx="573.9" cy="144.2" r="2.1" fill="#add8e6"/><circle cx="587.0" cy="177.6" r="2.1" fill="#add8e6"/><circle cx="524.4" cy="170.3" r="2.1" fill="#9acd32"/><circle cx="512.8" cy="121.5" r="2.1" fill="#9acd32"/><circle cx="512.8" cy="110.0" r="2.1" fill="#9acd32"/><circle cx="498.1" cy="125.8" r="2.1" fill="#9acd32"/><circle cx="407.6" cy="96.1" r="2.1" fill="#9acd32"/><circle cx="542.3" cy="152.4" r="2.1" fill="#9acd32"/><circle cx="631.1" cy="136.0" r="2.1" fill="#add8e6"/><circle cx="650.8" cy="156.6" r="2.1" fill="#add8e6"/><circle cx="470.0" cy="173.2" r="2.1" fill="#9acd32"/><circle cx="656.1" cy="141.1" r="2.1" fill="#add8e6"/><circle cx="488.8" cy="134.9" r="2.1" fill="#9acd32"/><circle cx="474.4" cy="108.9" r="2.1" fill="#9acd32"/><circle cx="505.8" cy="143.7" r="2.1" fill="#9acd32"/><circle cx="590.9" cy="153.4" r="2.1" fill="#add8e6"/><circle cx="670.2" cy="154.0" r="2.1" fill="#add8e6"/><circle cx="500.5" cy="111.8" r="2.1" fill="#9acd32"/><circle cx="481.4" cy="135.9" r="2.1" fill="#9acd32"/><circle cx="549.1" cy="136.5" r="2.1" fill="#add8e6"/><circle cx="609.3" cy="147.6" r="2.1" fill="#add8e6"/><circle cx="623.8" cy="147.6" r="2.1" fill="#add8e6"/><circle cx="462.1" cy="80.5" r="2.1" fill="#9acd32"/><circle cx="612.7" cy="186.3" r="2.1" fill="#add8e6"/><circle cx="459.8" cy="109.4" r="2.1" fill="#9acd32"/><circle cx="497.8" cy="182.4" r="2.1" fill="#9acd32"/><circle cx="474.4" cy="120.0" r="2.1" fill="#9acd32"/><circle cx="522.0" cy="139.4" r="2.1" fill="#9acd32"/><circle cx="447.3" cy="136.9" r="2.1" fill="#9acd32"/><circle cx="487.9" cy="109.4" r="2.1" fill="#9acd32"/><circle cx="656.5" cy="153.7" r="2.1" fill="#add8e6"/><circle cx="513.7" cy="137.9" r="2.1" fill="#9acd32"/><circle cx="610.7" cy="150.0" r="2.1" fill="#add8e6"/><circle cx="605.9" cy="176.6" r="2.1" fill="#add8e6"/><circle cx="635.4" cy="150.5" r="2.1" fill="#add8e6"/><circle cx="653.5" cy="176.9" r="2.1" fill="#add8e6"/><circle cx="640.8" cy="176.1" r="2.1" fill="#add8e6"/><circle cx="603.9" cy="144.7" r="2.1" fill="#add8e6"/><circle cx="501.5" cy="173.2" r="2.1" fill="#9acd32"/><circle cx="585.6" cy="161.1" r="2.1" fill="#add8e6"/><circle cx="613.1" cy="178.1" r="2.1" fill="#add8e6"/><circle cx="588.5" cy="169.4" r="2.1" fill="#add8e6"/><circle cx="557.3" cy="127.7" r="2.1" fill="#add8e6"/><circle cx="571.8" cy="175.6" r="2.1" fill="#add8e6"/><circle cx="487.0" cy="154.4" r="2.1" fill="#9acd32"/><circle cx="562.1" cy="138.9" r="2.1" fill="#add8e6"/><circle cx="466.6" cy="146.1" r="2.1" fill="#9acd32"/><circle cx="569.9" cy="148.6" r="2.1" fill="#add8e6"/><circle cx="461.8" cy="160.2" r="2.1" fill="#9acd32"/><circle cx="655.6" cy="163.1" r="2.1" fill="#add8e6"/><circle cx="452.1" cy="112.3" r="2.1" fill="#9acd32"/><circle cx="460.8" cy="117.6" r="2.1" fill="#add8e6"/><circle cx="425.3" cy="108.4" r="2.1" fill="#9acd32"/><circle cx="530.7" cy="126.8" r="2.1" fill="#9acd32"/><circle cx="490.3" cy="149.0" r="2.1" fill="#9acd32"/><circle cx="511.8" cy="123.9" r="2.1" fill="#9acd32"/><circle cx="565.1" cy="117.1" r="2.1" fill="#9acd32"/><circle cx="597.9" cy="180.0" r="2.1" fill="#add8e6"/><circle cx="520.5" cy="156.8" r="2.1" fill="#9acd32"/><circle cx="610.2" cy="141.8" r="2.1" fill="#add8e6"/><circle cx="444.4" cy="145.2" r="2.1" fill="#9acd32"/><circle cx="507.0" cy="130.2" r="2.1" fill="#9acd32"/><circle cx="523.4" cy="152.9" r="2.1" fill="#9acd32"/><circle cx="610.2" cy="154.4" r="2.1" fill="#add8e6"/><circle cx="435.3" cy="135.2" r="2.1" fill="#9acd32"/><circle cx="577.8" cy="167.4" r="2.1" fill="#add8e6"/><circle cx="444.4" cy="132.6" r="2.1" fill="#9acd32"/><circle cx="641.9" cy="167.7" r="2.1" fill="#add8e6"/><circle cx="571.8" cy="141.3" r="2.1" fill="#add8e6"/><circle cx="637.3" cy="173.2" r="2.1" fill="#add8e6"/><circle cx="618.5" cy="165.5" r="2.1" fill="#add8e6"/><circle cx="499.1" cy="189.7" r="2.1" fill="#9acd32"/><circle cx="537.0" cy="180.0" r="2.1" fill="#9acd32"/><circle cx="656.9" cy="173.2" r="2.1" fill="#add8e6"/><circle cx="564.1" cy="136.0" r="2.1" fill="#add8e6"/><circle cx="454.5" cy="136.0" r="2.1" fill="#9acd32"/><circle cx="447.7" cy="144.7" r="2.1" fill="#9acd32"/><circle cx="483.7" cy="98.7" r="2.1" fill="#9acd32"/><circle cx="548.2" cy="154.2" r="2.1" fill="#9acd32"/><circle cx="543.8" cy="154.8" r="2.1" fill="#9acd32"/><circle cx="673.4" cy="161.5" r="2.1" fill="#add8e6"/><circle cx="518.1" cy="136.5" r="2.1" fill="#9acd32"/><circle cx="576.4" cy="125.8" r="2.1" fill="#add8e6"/><circle cx="525.4" cy="153.9" r="2.1" fill="#9acd32"/><circle cx="468.1" cy="160.7" r="2.1" fill="#9acd32"/><circle cx="528.3" cy="158.7" r="2.1" fill="#9acd32"/><circle cx="588.5" cy="186.8" r="2.1" fill="#add8e6"/><circle cx="608.8" cy="130.0" r="2.1" fill="#add8e6"/><circle cx="632.5" cy="162.6" r="2.1" fill="#add8e6"/><circle cx="478.7" cy="127.3" r="2.1" fill="#9acd32"/><circle cx="529.7" cy="145.2" r="2.1" fill="#9acd32"/><circle cx="540.8" cy="141.8" r="2.1" fill="#9acd32"/><circle cx="605.4" cy="137.9" r="2.1" fill="#add8e6"/><circle cx="438.5" cy="150.2" r="2.1" fill="#add8e6"/><circle cx="477.3" cy="131.6" r="2.1" fill="#9acd32"/><circle cx="558.8" cy="133.6" r="2.1" fill="#add8e6"/><circle cx="524.9" cy="157.0" r="2.1" fill="#9acd32"/><circle cx="577.3" cy="135.5" r="2.1" fill="#add8e6"/><circle cx="569.4" cy="133.6" r="2.1" fill="#add8e6"/><circle cx="586.0" cy="131.1" r="2.1" fill="#add8e6"/><circle cx="480.2" cy="171.3" r="2.1" fill="#9acd32"/><circle cx="541.8" cy="161.1" r="2.1" fill="#9acd32"/><circle cx="625.7" cy="159.2" r="2.1" fill="#add8e6"/><circle cx="507.5" cy="132.6" r="2.1" fill="#9acd32"/><circle cx="651.6" cy="168.1" r="2.1" fill="#add8e6"/><circle cx="414.4" cy="119.7" r="2.1" fill="#9acd32"/><circle cx="522.0" cy="159.2" r="2.1" fill="#9acd32"/><circle cx="484.5" cy="136.0" r="2.1" fill="#9acd32"/><circle cx="498.1" cy="175.2" r="2.1" fill="#9acd32"/><circle cx="578.1" cy="153.8" r="2.1" fill="#add8e6"/><circle cx="488.4" cy="170.3" r="2.1" fill="#9acd32"/><circle cx="482.6" cy="131.6" r="2.1" fill="#9acd32"/><circle cx="536.5" cy="145.2" r="2.1" fill="#9acd32"/><circle cx="476.3" cy="115.2" r="2.1" fill="#9acd32"/><circle cx="484.7" cy="141.0" r="2.1" fill="#9acd32"/><circle cx="558.8" cy="154.8" r="2.1" fill="#add8e6"/><circle cx="493.7" cy="121.0" r="2.1" fill="#9acd32"/><circle cx="516.2" cy="139.8" r="2.1" fill="#9acd32"/><circle cx="665.3" cy="158.9" r="2.1" fill="#add8e6"/><circle cx="658.9" cy="155.3" r="2.1" fill="#add8e6"/><circle cx="505.8" cy="177.6" r="2.1" fill="#9acd32"/><circle cx="514.2" cy="166.0" r="2.1" fill="#9acd32"/><circle cx="570.4" cy="163.1" r="2.1" fill="#add8e6"/><circle cx="665.3" cy="152.9" r="2.1" fill="#add8e6"/><circle cx="532.6" cy="121.9" r="2.1" fill="#9acd32"/><circle cx="581.2" cy="141.3" r="2.1" fill="#add8e6"/><circle cx="447.3" cy="120.0" r="2.1" fill="#9acd32"/><circle cx="537.9" cy="161.0" r="2.1" fill="#9acd32"/><circle cx="636.4" cy="177.1" r="2.1" fill="#add8e6"/><circle cx="505.8" cy="151.0" r="2.1" fill="#9acd32"/><circle cx="617.0" cy="172.3" r="2.1" fill="#add8e6"/><circle cx="609.8" cy="162.6" r="2.1" fill="#add8e6"/><circle cx="562.1" cy="163.6" r="2.1" fill="#add8e6"/><circle cx="567.0" cy="168.4" r="2.1" fill="#add8e6"/><circle cx="521.0" cy="145.2" r="2.1" fill="#9acd32"/><circle cx="471.5" cy="113.7" r="2.1" fill="#9acd32"/><circle cx="591.8" cy="177.1" r="2.1" fill="#add8e6"/><circle cx="647.6" cy="162.1" r="2.1" fill="#add8e6"/><circle cx="564.1" cy="171.3" r="2.1" fill="#add8e6"/><circle cx="612.7" cy="147.1" r="2.1" fill="#add8e6"/><circle cx="470.0" cy="156.8" r="2.1" fill="#9acd32"/><circle cx="414.4" cy="121.1" r="2.1" fill="#9acd32"/><circle cx="656.5" cy="168.9" r="2.1" fill="#add8e6"/><circle cx="526.3" cy="147.6" r="2.1" fill="#9acd32"/><circle cx="500.5" cy="138.9" r="2.1" fill="#9acd32"/><circle cx="480.2" cy="147.1" r="2.1" fill="#9acd32"/><circle cx="592.3" cy="156.8" r="2.1" fill="#add8e6"/><circle cx="582.2" cy="150.0" r="2.1" fill="#add8e6"/><circle cx="551.0" cy="145.6" r="2.1" fill="#add8e6"/><circle cx="617.5" cy="160.7" r="2.1" fill="#add8e6"/><circle cx="522.0" cy="130.2" r="2.1" fill="#9acd32"/><circle cx="576.4" cy="122.4" r="2.1" fill="#add8e6"/><circle cx="556.3" cy="155.8" r="2.1" fill="#add8e6"/><circle cx="563.1" cy="165.5" r="2.1" fill="#add8e6"/><circle cx="661.3" cy="167.7" r="2.1" fill="#add8e6"/><circle cx="600.1" cy="168.4" r="2.1" fill="#add8e6"/><circle cx="423.2" cy="145.3" r="2.1" fill="#9acd32"/><circle cx="485.0" cy="173.2" r="2.1" fill="#9acd32"/><circle cx="615.1" cy="152.4" r="2.1" fill="#add8e6"/><circle cx="559.2" cy="141.8" r="2.1" fill="#add8e6"/><circle cx="477.3" cy="123.9" r="2.1" fill="#9acd32"/><circle cx="459.4" cy="148.6" r="2.1" fill="#9acd32"/><circle cx="519.1" cy="115.2" r="2.1" fill="#add8e6"/><circle cx="569.9" cy="158.7" r="2.1" fill="#add8e6"/><circle cx="603.0" cy="164.0" r="2.1" fill="#add8e6"/><circle cx="566.0" cy="149.5" r="2.1" fill="#add8e6"/><circle cx="454.5" cy="109.4" r="2.1" fill="#9acd32"/><circle cx="532.6" cy="150.5" r="2.1" fill="#9acd32"/><circle cx="471.9" cy="122.9" r="2.1" fill="#9acd32"/><circle cx="495.2" cy="126.8" r="2.1" fill="#9acd32"/><circle cx="608.8" cy="157.7" r="2.1" fill="#add8e6"/><circle cx="496.1" cy="138.4" r="2.1" fill="#9acd32"/><circle cx="478.9" cy="97.7" r="2.1" fill="#9acd32"/><circle cx="456.0" cy="166.9" r="2.1" fill="#9acd32"/><circle cx="472.4" cy="128.2" r="2.1" fill="#9acd32"/><circle cx="467.6" cy="130.7" r="2.1" fill="#9acd32"/><circle cx="608.4" cy="137.4" r="2.1" fill="#add8e6"/><circle cx="496.1" cy="169.4" r="2.1" fill="#9acd32"/><circle cx="562.6" cy="120.5" r="2.1" fill="#9acd32"/><circle cx="505.8" cy="165.5" r="2.1" fill="#9acd32"/><circle cx="505.8" cy="163.1" r="2.1" fill="#9acd32"/><circle cx="640.0" cy="127.9" r="2.1" fill="#add8e6"/><circle cx="541.3" cy="180.0" r="2.1" fill="#9acd32"/><circle cx="543.3" cy="184.4" r="2.1" fill="#9acd32"/><circle cx="592.3" cy="139.8" r="2.1" fill="#add8e6"/><circle cx="546.2" cy="120.5" r="2.1" fill="#9acd32"/><circle cx="642.4" cy="170.0" r="2.1" fill="#add8e6"/><circle cx="481.6" cy="157.3" r="2.1" fill="#9acd32"/><circle cx="605.4" cy="168.4" r="2.1" fill="#add8e6"/><circle cx="465.2" cy="154.8" r="2.1" fill="#9acd32"/><circle cx="496.1" cy="172.7" r="2.1" fill="#9acd32"/><circle cx="428.9" cy="136.8" r="2.1" fill="#9acd32"/><circle cx="514.2" cy="125.8" r="2.1" fill="#9acd32"/><circle cx="494.2" cy="143.2" r="2.1" fill="#9acd32"/><circle cx="529.2" cy="122.4" r="2.1" fill="#9acd32"/><circle cx="534.1" cy="174.2" r="2.1" fill="#9acd32"/><circle cx="453.6" cy="117.1" r="2.1" fill="#9acd32"/><circle cx="498.8" cy="171.3" r="2.1" fill="#9acd32"/><circle cx="637.8" cy="141.8" r="2.1" fill="#add8e6"/><circle cx="432.9" cy="115.5" r="2.1" fill="#9acd32"/><circle cx="512.3" cy="146.1" r="2.1" fill="#9acd32"/><circle cx="476.8" cy="150.0" r="2.1" fill="#9acd32"/><circle cx="571.8" cy="136.0" r="2.1" fill="#add8e6"/><circle cx="498.1" cy="113.2" r="2.1" fill="#9acd32"/><circle cx="478.2" cy="138.9" r="2.1" fill="#9acd32"/><circle cx="637.3" cy="158.7" r="2.1" fill="#add8e6"/><circle cx="603.0" cy="170.8" r="2.1" fill="#add8e6"/><circle cx="542.3" cy="147.1" r="2.1" fill="#add8e6"/><circle cx="536.0" cy="139.4" r="2.1" fill="#9acd32"/><circle cx="556.3" cy="174.7" r="2.1" fill="#add8e6"/><circle cx="563.6" cy="151.9" r="2.1" fill="#add8e6"/><circle cx="431.3" cy="148.1" r="2.1" fill="#9acd32"/><circle cx="512.3" cy="131.6" r="2.1" fill="#9acd32"/><circle cx="594.3" cy="131.1" r="2.1" fill="#add8e6"/><circle cx="468.1" cy="121.9" r="2.1" fill="#9acd32"/><circle cx="544.7" cy="162.6" r="2.1" fill="#9acd32"/><circle cx="412.7" cy="107.1" r="2.1" fill="#9acd32"/><circle cx="588.9" cy="161.1" r="2.1" fill="#add8e6"/><circle cx="462.7" cy="140.8" r="2.1" fill="#9acd32"/><circle cx="660.5" cy="162.1" r="2.1" fill="#add8e6"/><circle cx="641.1" cy="149.2" r="2.1" fill="#add8e6"/><circle cx="563.1" cy="155.8" r="2.1" fill="#add8e6"/><circle cx="553.4" cy="149.0" r="2.1" fill="#add8e6"/><circle cx="568.9" cy="125.8" r="2.1" fill="#add8e6"/><circle cx="411.6" cy="152.9" r="2.1" fill="#9acd32"/><circle cx="598.6" cy="153.4" r="2.1" fill="#add8e6"/><circle cx="591.3" cy="135.9" r="2.1" fill="#add8e6"/><circle cx="487.4" cy="130.2" r="2.1" fill="#9acd32"/><circle cx="526.3" cy="141.3" r="2.1" fill="#9acd32"/><circle cx="562.1" cy="134.0" r="2.1" fill="#add8e6"/><circle cx="581.7" cy="179.5" r="2.1" fill="#add8e6"/><circle cx="548.0" cy="176.9" r="2.1" fill="#add8e6"/><circle cx="581.2" cy="153.4" r="2.1" fill="#add8e6"/><circle cx="506.5" cy="123.9" r="2.1" fill="#9acd32"/><circle cx="626.0" cy="129.4" r="2.1" fill="#add8e6"/><circle cx="607.3" cy="141.3" r="2.1" fill="#add8e6"/><circle cx="516.6" cy="127.3" r="2.1" fill="#9acd32"/><circle cx="615.6" cy="165.5" r="2.1" fill="#add8e6"/><circle cx="439.8" cy="117.1" r="2.1" fill="#9acd32"/><circle cx="490.3" cy="177.1" r="2.1" fill="#9acd32"/><circle cx="616.2" cy="168.5" r="2.1" fill="#add8e6"/><circle cx="493.7" cy="112.7" r="2.1" fill="#9acd32"/><circle cx="522.0" cy="184.8" r="2.1" fill="#9acd32"/><circle cx="536.5" cy="152.4" r="2.1" fill="#9acd32"/><circle cx="532.6" cy="141.8" r="2.1" fill="#9acd32"/><circle cx="626.9" cy="175.0" r="2.1" fill="#add8e6"/><circle cx="510.4" cy="148.1" r="2.1" fill="#9acd32"/><circle cx="605.9" cy="163.6" r="2.1" fill="#add8e6"/><circle cx="631.1" cy="134.5" r="2.1" fill="#add8e6"/><circle cx="509.9" cy="161.1" r="2.1" fill="#9acd32"/><circle cx="418.4" cy="110.0" r="2.1" fill="#9acd32"/><circle cx="644.4" cy="155.3" r="2.1" fill="#add8e6"/><circle cx="570.9" cy="151.9" r="2.1" fill="#add8e6"/><circle cx="522.5" cy="134.0" r="2.1" fill="#9acd32"/><circle cx="529.2" cy="193.6" r="2.1" fill="#9acd32"/><circle cx="574.9" cy="174.7" r="2.1" fill="#add8e6"/><circle cx="592.8" cy="149.0" r="2.1" fill="#add8e6"/><circle cx="577.3" cy="128.2" r="2.1" fill="#add8e6"/><circle cx="567.0" cy="163.6" r="2.1" fill="#add8e6"/><circle cx="641.9" cy="161.5" r="2.1" fill="#add8e6"/><circle cx="588.5" cy="121.9" r="2.1" fill="#add8e6"/><circle cx="518.6" cy="180.5" r="2.1" fill="#9acd32"/><circle cx="435.3" cy="123.9" r="2.1" fill="#9acd32"/><circle cx="441.9" cy="107.4" r="2.1" fill="#9acd32"/><circle cx="547.6" cy="168.4" r="2.1" fill="#add8e6"/><circle cx="535.0" cy="131.1" r="2.1" fill="#9acd32"/><circle cx="480.2" cy="165.5" r="2.1" fill="#9acd32"/><circle cx="471.5" cy="136.0" r="2.1" fill="#9acd32"/><circle cx="569.9" cy="155.8" r="2.1" fill="#add8e6"/><circle cx="568.0" cy="166.0" r="2.1" fill="#add8e6"/><circle cx="495.7" cy="154.8" r="2.1" fill="#9acd32"/><circle cx="471.9" cy="152.4" r="2.1" fill="#9acd32"/><circle cx="423.7" cy="95.0" r="2.1" fill="#9acd32"/><circle cx="556.3" cy="140.3" r="2.1" fill="#add8e6"/><circle cx="433.7" cy="144.0" r="2.1" fill="#9acd32"/><circle cx="518.1" cy="122.9" r="2.1" fill="#9acd32"/><circle cx="665.3" cy="165.6" r="2.1" fill="#add8e6"/><circle cx="489.0" cy="99.4" r="2.1" fill="#9acd32"/><circle cx="612.2" cy="160.2" r="2.1" fill="#add8e6"/><circle cx="620.9" cy="158.2" r="2.1" fill="#add8e6"/><circle cx="527.8" cy="167.4" r="2.1" fill="#9acd32"/><circle cx="606.8" cy="178.6" r="2.1" fill="#add8e6"/><circle cx="505.8" cy="131.1" r="2.1" fill="#9acd32"/><circle cx="467.6" cy="117.1" r="2.1" fill="#9acd32"/><circle cx="573.9" cy="134.0" r="2.1" fill="#add8e6"/><circle cx="481.1" cy="114.7" r="2.1" fill="#9acd32"/><circle cx="499.5" cy="158.2" r="2.1" fill="#9acd32"/><circle cx="486.5" cy="157.7" r="2.1" fill="#9acd32"/><circle cx="435.3" cy="105.2" r="2.1" fill="#9acd32"/><circle cx="552.5" cy="132.1" r="2.1" fill="#add8e6"/><circle cx="460.3" cy="138.9" r="2.1" fill="#9acd32"/><circle cx="551.0" cy="125.3" r="2.1" fill="#9acd32"/><circle cx="540.8" cy="174.7" r="2.1" fill="#9acd32"/><circle cx="538.9" cy="166.5" r="2.1" fill="#9acd32"/><circle cx="466.1" cy="151.0" r="2.1" fill="#9acd32"/><circle cx="549.1" cy="134.0" r="2.1" fill="#add8e6"/><circle cx="613.1" cy="170.3" r="2.1" fill="#add8e6"/><circle cx="568.0" cy="152.9" r="2.1" fill="#add8e6"/><circle cx="473.4" cy="154.8" r="2.1" fill="#9acd32"/><circle cx="529.2" cy="163.1" r="2.1" fill="#9acd32"/><circle cx="591.8" cy="169.8" r="2.1" fill="#add8e6"/><circle cx="566.5" cy="155.8" r="2.1" fill="#add8e6"/><circle cx="598.4" cy="183.2" r="2.1" fill="#add8e6"/><circle cx="505.8" cy="179.5" r="2.1" fill="#9acd32"/><circle cx="613.1" cy="142.3" r="2.1" fill="#add8e6"/><circle cx="618.0" cy="163.6" r="2.1" fill="#add8e6"/><circle cx="457.9" cy="124.4" r="2.1" fill="#9acd32"/><circle cx="509.4" cy="143.2" r="2.1" fill="#9acd32"/><circle cx="616.5" cy="175.2" r="2.1" fill="#add8e6"/><circle cx="615.6" cy="161.6" r="2.1" fill="#add8e6"/><circle cx="483.1" cy="126.8" r="2.1" fill="#9acd32"/><circle cx="603.9" cy="166.0" r="2.1" fill="#add8e6"/><circle cx="460.3" cy="144.2" r="2.1" fill="#9acd32"/><circle cx="490.3" cy="163.1" r="2.1" fill="#9acd32"/><circle cx="583.1" cy="176.6" r="2.1" fill="#add8e6"/><circle cx="431.3" cy="129.2" r="2.1" fill="#9acd32"/><circle cx="605.2" cy="157.4" r="2.1" fill="#add8e6"/><circle cx="532.1" cy="152.9" r="2.1" fill="#9acd32"/><circle cx="535.5" cy="184.4" r="2.1" fill="#9acd32"/><circle cx="596.2" cy="158.2" r="2.1" fill="#add8e6"/><circle cx="590.4" cy="142.3" r="2.1" fill="#add8e6"/><circle cx="597.2" cy="172.3" r="2.1" fill="#add8e6"/><circle cx="539.4" cy="164.0" r="2.1" fill="#9acd32"/><circle cx="492.3" cy="147.1" r="2.1" fill="#9acd32"/><circle cx="499.1" cy="161.6" r="2.1" fill="#9acd32"/><circle cx="561.2" cy="168.4" r="2.1" fill="#add8e6"/><circle cx="447.3" cy="129.2" r="2.1" fill="#9acd32"/><circle cx="558.8" cy="166.5" r="2.1" fill="#add8e6"/><circle cx="596.7" cy="176.1" r="2.1" fill="#add8e6"/><circle cx="522.0" cy="173.2" r="2.1" fill="#9acd32"/><circle cx="559.7" cy="158.2" r="2.1" fill="#add8e6"/><circle cx="613.6" cy="174.5" r="2.1" fill="#add8e6"/><circle cx="456.9" cy="133.6" r="2.1" fill="#9acd32"/><circle cx="594.7" cy="152.9" r="2.1" fill="#add8e6"/><circle cx="553.9" cy="182.2" r="2.1" fill="#9acd32"/><circle cx="477.8" cy="160.7" r="2.1" fill="#9acd32"/><circle cx="502.9" cy="141.8" r="2.1" fill="#9acd32"/><circle cx="512.8" cy="155.8" r="2.1" fill="#9acd32"/><circle cx="465.7" cy="137.9" r="2.1" fill="#9acd32"/><circle cx="493.7" cy="160.2" r="2.1" fill="#9acd32"/><circle cx="516.2" cy="132.1" r="2.1" fill="#9acd32"/><circle cx="488.4" cy="152.9" r="2.1" fill="#9acd32"/><circle cx="604.9" cy="133.6" r="2.1" fill="#add8e6"/><circle cx="492.8" cy="136.9" r="2.1" fill="#9acd32"/><circle cx="492.8" cy="144.7" r="2.1" fill="#9acd32"/><circle cx="631.5" cy="144.2" r="2.1" fill="#add8e6"/><circle cx="609.3" cy="179.5" r="2.1" fill="#add8e6"/><circle cx="568.0" cy="115.6" r="2.1" fill="#9acd32"/><circle cx="529.2" cy="172.7" r="2.1" fill="#9acd32"/><circle cx="499.1" cy="119.5" r="2.1" fill="#9acd32"/><circle cx="635.9" cy="166.0" r="2.1" fill="#add8e6"/><circle cx="595.2" cy="170.8" r="2.1" fill="#add8e6"/><circle cx="521.5" cy="168.4" r="2.1" fill="#9acd32"/><circle cx="471.5" cy="125.8" r="2.1" fill="#9acd32"/><circle cx="602.5" cy="173.2" r="2.1" fill="#add8e6"/><circle cx="535.5" cy="118.6" r="2.1" fill="#add8e6"/><circle cx="507.5" cy="140.3" r="2.1" fill="#9acd32"/><circle cx="449.7" cy="131.6" r="2.1" fill="#9acd32"/><circle cx="422.1" cy="92.6" r="2.1" fill="#9acd32"/><circle cx="479.7" cy="133.1" r="2.1" fill="#9acd32"/><circle cx="490.3" cy="109.4" r="2.1" fill="#9acd32"/><circle cx="582.6" cy="133.6" r="2.1" fill="#add8e6"/><circle cx="600.6" cy="136.5" r="2.1" fill="#add8e6"/><circle cx="482.6" cy="144.2" r="2.1" fill="#9acd32"/><circle cx="452.6" cy="126.8" r="2.1" fill="#9acd32"/><circle cx="613.6" cy="181.0" r="2.1" fill="#add8e6"/><circle cx="579.3" cy="130.2" r="2.1" fill="#add8e6"/><circle cx="451.6" cy="130.7" r="2.1" fill="#9acd32"/><circle cx="535.0" cy="126.3" r="2.1" fill="#9acd32"/><circle cx="460.8" cy="124.8" r="2.1" fill="#9acd32"/><circle cx="477.3" cy="143.2" r="2.1" fill="#9acd32"/><circle cx="499.1" cy="150.5" r="2.1" fill="#9acd32"/><circle cx="503.4" cy="152.4" r="2.1" fill="#9acd32"/><circle cx="574.9" cy="140.8" r="2.1" fill="#add8e6"/><circle cx="498.1" cy="136.0" r="2.1" fill="#9acd32"/><circle cx="424.0" cy="150.2" r="2.1" fill="#9acd32"/><circle cx="575.9" cy="155.8" r="2.1" fill="#add8e6"/><circle cx="574.4" cy="148.6" r="2.1" fill="#add8e6"/><circle cx="457.4" cy="117.6" r="2.1" fill="#add8e6"/><circle cx="608.8" cy="134.0" r="2.1" fill="#add8e6"/><circle cx="598.1" cy="138.9" r="2.1" fill="#add8e6"/><circle cx="569.9" cy="136.9" r="2.1" fill="#add8e6"/><circle cx="611.7" cy="131.6" r="2.1" fill="#add8e6"/><circle cx="493.2" cy="131.6" r="2.1" fill="#9acd32"/><circle cx="502.9" cy="157.7" r="2.1" fill="#9acd32"/><circle cx="557.8" cy="173.2" r="2.1" fill="#add8e6"/><circle cx="598.1" cy="128.2" r="2.1" fill="#add8e6"/><circle cx="538.9" cy="124.8" r="2.1" fill="#9acd32"/><circle cx="592.3" cy="128.7" r="2.1" fill="#add8e6"/><circle cx="585.1" cy="186.5" r="2.1" fill="#add8e6"/><circle cx="467.6" cy="165.5" r="2.1" fill="#9acd32"/><circle cx="565.5" cy="174.2" r="2.1" fill="#add8e6"/><circle cx="624.3" cy="137.9" r="2.1" fill="#add8e6"/><circle cx="472.4" cy="146.1" r="2.1" fill="#9acd32"/><circle cx="458.9" cy="155.3" r="2.1" fill="#9acd32"/><circle cx="546.7" cy="147.6" r="2.1" fill="#add8e6"/><circle cx="639.5" cy="141.6" r="2.1" fill="#add8e6"/><circle cx="546.2" cy="156.8" r="2.1" fill="#9acd32"/><circle cx="512.8" cy="177.1" r="2.1" fill="#9acd32"/><circle cx="459.4" cy="130.2" r="2.1" fill="#9acd32"/><circle cx="463.7" cy="145.6" r="2.1" fill="#9acd32"/><circle cx="480.2" cy="151.9" r="2.1" fill="#9acd32"/><circle cx="487.4" cy="180.5" r="2.1" fill="#9acd32"/><circle cx="518.1" cy="162.6" r="2.1" fill="#9acd32"/><circle cx="526.8" cy="172.3" r="2.1" fill="#9acd32"/><circle cx="603.5" cy="154.8" r="2.1" fill="#add8e6"/><circle cx="441.9" cy="133.6" r="2.1" fill="#add8e6"/><circle cx="473.4" cy="158.2" r="2.1" fill="#9acd32"/><circle cx="509.9" cy="136.0" r="2.1" fill="#9acd32"/><circle cx="578.3" cy="183.2" r="2.1" fill="#add8e6"/><circle cx="588.9" cy="147.6" r="2.1" fill="#add8e6"/><circle cx="551.5" cy="138.9" r="2.1" fill="#9acd32"/><circle cx="507.9" cy="154.4" r="2.1" fill="#9acd32"/><circle cx="422.1" cy="117.1" r="2.1" fill="#9acd32"/><circle cx="668.5" cy="167.3" r="2.1" fill="#add8e6"/><circle cx="502.4" cy="129.7" r="2.1" fill="#9acd32"/><circle cx="617.5" cy="149.5" r="2.1" fill="#add8e6"/><circle cx="492.8" cy="166.9" r="2.1" fill="#9acd32"/><circle cx="593.3" cy="133.1" r="2.1" fill="#add8e6"/><circle cx="542.8" cy="165.0" r="2.1" fill="#9acd32"/><circle cx="517.1" cy="182.4" r="2.1" fill="#9acd32"/><circle cx="513.7" cy="161.1" r="2.1" fill="#9acd32"/><circle cx="620.4" cy="171.3" r="2.1" fill="#add8e6"/><circle cx="404.4" cy="130.3" r="2.1" fill="#9acd32"/><circle cx="647.6" cy="143.5" r="2.1" fill="#add8e6"/><circle cx="462.7" cy="129.7" r="2.1" fill="#9acd32"/><circle cx="577.1" cy="164.4" r="2.1" fill="#add8e6"/><circle cx="432.9" cy="162.1" r="2.1" fill="#9acd32"/><circle cx="558.3" cy="162.6" r="2.1" fill="#add8e6"/><circle cx="516.6" cy="147.1" r="2.1" fill="#9acd32"/><circle cx="456.9" cy="130.2" r="2.1" fill="#9acd32"/><circle cx="556.3" cy="145.6" r="2.1" fill="#add8e6"/><circle cx="587.5" cy="137.9" r="2.1" fill="#add8e6"/><circle cx="660.5" cy="147.6" r="2.1" fill="#add8e6"/><circle cx="460.8" cy="135.5" r="2.1" fill="#add8e6"/><circle cx="544.7" cy="179.0" r="2.1" fill="#add8e6"/><circle cx="552.5" cy="153.9" r="2.1" fill="#add8e6"/><circle cx="515.7" cy="184.4" r="2.1" fill="#add8e6"/><circle cx="547.1" cy="142.3" r="2.1" fill="#9acd32"/><circle cx="467.9" cy="93.9" r="2.1" fill="#add8e6"/><circle cx="556.3" cy="136.9" r="2.1" fill="#9acd32"/><circle cx="481.1" cy="124.4" r="2.1" fill="#add8e6"/><circle cx="466.0" cy="96.6" r="2.1" fill="#9acd32"/><circle cx="504.9" cy="149.5" r="2.1" fill="#add8e6"/><circle cx="553.9" cy="129.2" r="2.1" fill="#add8e6"/><circle cx="498.1" cy="164.0" r="2.1" fill="#add8e6"/><circle cx="532.1" cy="158.7" r="2.1" fill="#add8e6"/><circle cx="635.4" cy="162.1" r="2.1" fill="#9acd32"/><circle cx="518.6" cy="170.3" r="2.1" fill="#add8e6"/><circle cx="557.3" cy="131.1" r="2.1" fill="#9acd32"/><circle cx="531.4" cy="118.1" r="2.1" fill="#add8e6"/><circle cx="554.9" cy="161.1" r="2.1" fill="#9acd32"/><circle cx="550.5" cy="165.0" r="2.1" fill="#9acd32"/><circle cx="492.8" cy="115.2" r="2.1" fill="#add8e6"/><circle cx="460.8" cy="151.0" r="2.1" fill="#add8e6"/><circle cx="546.2" cy="151.0" r="2.1" fill="#add8e6"/><circle cx="451.8" cy="166.5" r="2.1" fill="#add8e6"/><circle cx="466.6" cy="141.8" r="2.1" fill="#add8e6"/><circle cx="491.3" cy="125.3" r="2.1" fill="#add8e6"/><circle cx="460.8" cy="133.6" r="2.1" fill="#add8e6"/><circle cx="487.9" cy="117.6" r="2.1" fill="#9acd32"/><circle cx="463.2" cy="119.0" r="2.1" fill="#add8e6"/><circle cx="456.5" cy="142.7" r="2.1" fill="#add8e6"/><circle cx="504.4" cy="137.9" r="2.1" fill="#add8e6"/><circle cx="522.0" cy="163.1" r="2.1" fill="#add8e6"/><circle cx="536.0" cy="167.4" r="2.1" fill="#add8e6"/><circle cx="559.2" cy="160.2" r="2.1" fill="#9acd32"/><circle cx="540.8" cy="154.8" r="2.1" fill="#add8e6"/><circle cx="513.3" cy="134.0" r="2.1" fill="#add8e6"/><circle cx="485.5" cy="124.4" r="2.1" fill="#9acd32"/><circle cx="515.7" cy="162.6" r="2.1" fill="#add8e6"/><circle cx="465.4" cy="166.2" r="2.1" fill="#add8e6"/><circle cx="467.6" cy="143.7" r="2.1" fill="#add8e6"/><circle cx="548.1" cy="181.0" r="2.1" fill="#9acd32"/><circle cx="567.0" cy="136.0" r="2.1" fill="#9acd32"/><circle cx="542.8" cy="141.8" r="2.1" fill="#add8e6"/><circle cx="447.4" cy="100.2" r="2.1" fill="#9acd32"/><circle cx="449.0" cy="99.4" r="2.1" fill="#add8e6"/><circle cx="480.9" cy="173.7" r="2.1" fill="#add8e6"/><circle cx="498.1" cy="165.5" r="2.1" fill="#add8e6"/><circle cx="457.9" cy="114.2" r="2.1" fill="#add8e6"/><circle cx="548.1" cy="129.2" r="2.1" fill="#9acd32"/><circle cx="558.3" cy="150.5" r="2.1" fill="#9acd32"/><circle cx="542.3" cy="136.9" r="2.1" fill="#9acd32"/><circle cx="471.5" cy="118.6" r="2.1" fill="#add8e6"/><circle cx="537.5" cy="157.3" r="2.1" fill="#add8e6"/><circle cx="515.7" cy="155.3" r="2.1" fill="#add8e6"/><circle cx="546.2" cy="179.5" r="2.1" fill="#add8e6"/><circle cx="553.0" cy="142.3" r="2.1" fill="#9acd32"/><circle cx="546.7" cy="158.2" r="2.1" fill="#add8e6"/><circle cx="535.0" cy="163.1" r="2.1" fill="#add8e6"/><circle cx="525.4" cy="176.1" r="2.1" fill="#add8e6"/><circle cx="475.3" cy="117.1" r="2.1" fill="#add8e6"/><circle cx="556.3" cy="125.3" r="2.1" fill="#9acd32"/><circle cx="531.2" cy="113.7" r="2.1" fill="#9acd32"/><circle cx="495.2" cy="141.8" r="2.1" fill="#add8e6"/><circle cx="545.2" cy="174.2" r="2.1" fill="#9acd32"/><circle cx="481.6" cy="139.4" r="2.1" fill="#add8e6"/><circle cx="535.0" cy="154.4" r="2.1" fill="#add8e6"/><circle cx="487.0" cy="144.7" r="2.1" fill="#add8e6"/><circle cx="516.2" cy="173.2" r="2.1" fill="#add8e6"/><circle cx="443.9" cy="129.2" r="2.1" fill="#add8e6"/><circle cx="564.1" cy="177.1" r="2.1" fill="#9acd32"/><circle cx="522.0" cy="165.5" r="2.1" fill="#add8e6"/><circle cx="491.8" cy="152.4" r="2.1" fill="#add8e6"/><circle cx="540.4" cy="137.9" r="2.1" fill="#add8e6"/><circle cx="571.1" cy="180.0" r="2.1" fill="#9acd32"/><circle cx="471.0" cy="132.6" r="2.1" fill="#add8e6"/><circle cx="466.3" cy="101.9" r="2.1" fill="#add8e6"/><circle cx="551.0" cy="151.9" r="2.1" fill="#9acd32"/><circle cx="520.5" cy="152.4" r="2.1" fill="#add8e6"/><circle cx="525.4" cy="132.1" r="2.1" fill="#add8e6"/><circle cx="449.2" cy="148.1" r="2.1" fill="#add8e6"/><circle cx="536.2" cy="182.4" r="2.1" fill="#add8e6"/><circle cx="535.0" cy="158.2" r="2.1" fill="#9acd32"/><circle cx="533.1" cy="120.5" r="2.1" fill="#add8e6"/><circle cx="454.0" cy="144.7" r="2.1" fill="#add8e6"/></g></svg>
</body></html>
